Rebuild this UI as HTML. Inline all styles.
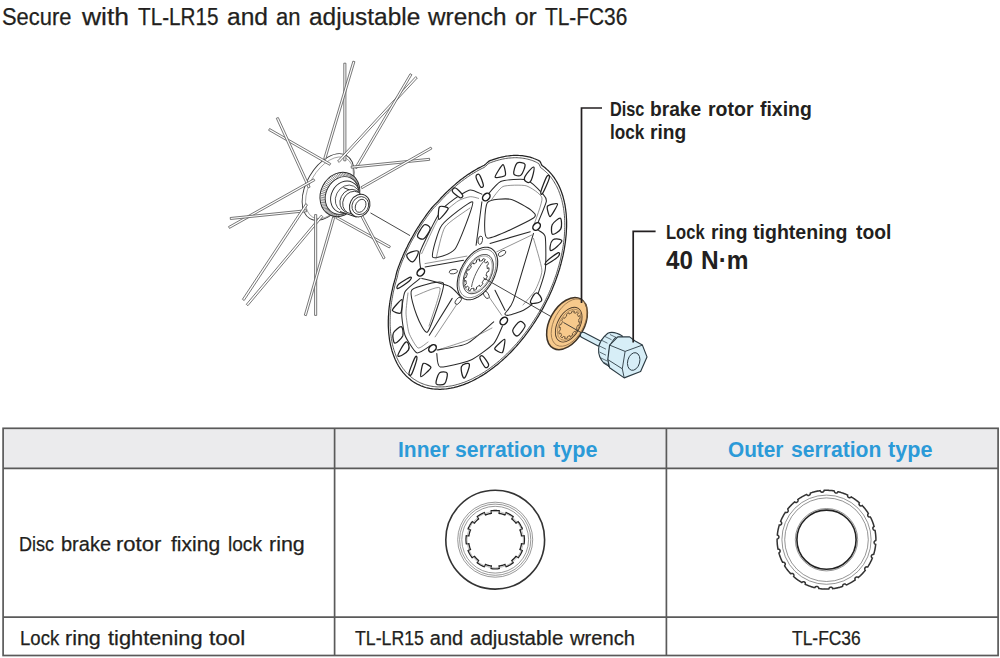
<!DOCTYPE html>
<html><head><meta charset="utf-8">
<style>
html,body{margin:0;padding:0;background:#fff;}
body{width:1000px;height:658px;position:relative;overflow:hidden;font-family:"Liberation Sans",sans-serif;color:#231f20;}
.t{position:absolute;white-space:nowrap;line-height:1;transform-origin:0 0;}
.b{font-weight:bold;}
.t:not(.b){-webkit-text-stroke:0.25px currentColor;}
.blue{color:#2b9ad8;}
svg{position:absolute;left:0;top:0;z-index:0;}
.t{z-index:1;}
</style></head><body>
<!--TEXT-->
<div class="t" style="left:2.24px;top:6.07px;font-size:23.3px;color:#231f20;transform:scaleX(0.9398)">Secure</div>
<div class="t" style="left:81.65px;top:6.07px;font-size:23.3px;color:#231f20;transform:scaleX(1.1366)">with</div>
<div class="t" style="left:137.94px;top:6.07px;font-size:23.3px;color:#231f20;transform:scaleX(0.8890)">TL-LR15</div>
<div class="t" style="left:227.37px;top:6.07px;font-size:23.3px;color:#231f20;transform:scaleX(1.0554)">and</div>
<div class="t" style="left:276.00px;top:6.07px;font-size:23.3px;color:#231f20;transform:scaleX(0.9448)">an</div>
<div class="t" style="left:309.00px;top:6.07px;font-size:23.3px;color:#231f20;transform:scaleX(1.0472)">adjustable</div>
<div class="t" style="left:427.81px;top:6.07px;font-size:23.3px;color:#231f20;transform:scaleX(1.0440)">wrench</div>
<div class="t" style="left:515.40px;top:6.07px;font-size:23.3px;color:#231f20;transform:scaleX(1.0476)">or</div>
<div class="t" style="left:545.22px;top:6.07px;font-size:23.3px;color:#231f20;transform:scaleX(0.8957)">TL-FC36</div>
<div class="t b" style="left:609.92px;top:100.09px;font-size:19.5px;color:#231f20;transform:scaleX(0.8362)">Disc</div>
<div class="t b" style="left:650.41px;top:100.09px;font-size:19.5px;color:#231f20;transform:scaleX(0.9844)">brake</div>
<div class="t b" style="left:708.00px;top:100.09px;font-size:19.5px;color:#231f20;transform:scaleX(1.0000)">rotor</div>
<div class="t b" style="left:760.40px;top:100.09px;font-size:19.5px;color:#231f20;transform:scaleX(0.9963)">fixing</div>
<div class="t b" style="left:609.85px;top:122.99px;font-size:19.5px;color:#231f20;transform:scaleX(0.8802)">lock</div>
<div class="t b" style="left:650.40px;top:122.99px;font-size:19.5px;color:#231f20;transform:scaleX(0.9838)">ring</div>
<div class="t b" style="left:666.13px;top:223.10px;font-size:19.6px;color:#231f20;transform:scaleX(0.8450)">Lock</div>
<div class="t b" style="left:710.82px;top:223.10px;font-size:19.6px;color:#231f20;transform:scaleX(0.9838)">ring</div>
<div class="t b" style="left:753.40px;top:223.10px;font-size:19.6px;color:#231f20;transform:scaleX(0.9979)">tightening</div>
<div class="t b" style="left:855.58px;top:223.10px;font-size:19.6px;color:#231f20;transform:scaleX(0.9838)">tool</div>
<div class="t b" style="left:666.00px;top:248.05px;font-size:25.1px;color:#231f20;transform:scaleX(0.9643)">40</div>
<div class="t b" style="left:700.62px;top:248.05px;font-size:25.1px;color:#231f20;transform:scaleX(0.9746)">N·m</div>
<div class="t b" style="left:398.02px;top:439.58px;font-size:21.4px;color:#2b9ad8;transform:scaleX(0.9808)">Inner</div>
<div class="t b" style="left:455.40px;top:439.58px;font-size:21.4px;color:#2b9ad8;transform:scaleX(0.9869)">serration</div>
<div class="t b" style="left:553.00px;top:439.58px;font-size:21.4px;color:#2b9ad8;transform:scaleX(1.0094)">type</div>
<div class="t b" style="left:728.20px;top:439.58px;font-size:21.4px;color:#2b9ad8;transform:scaleX(0.9720)">Outer</div>
<div class="t b" style="left:790.61px;top:439.58px;font-size:21.4px;color:#2b9ad8;transform:scaleX(0.9867)">serration</div>
<div class="t b" style="left:888.21px;top:439.58px;font-size:21.4px;color:#2b9ad8;transform:scaleX(1.0094)">type</div>
<div class="t" style="left:19.28px;top:534.14px;font-size:20.5px;color:#231f20;transform:scaleX(0.8810)">Disc</div>
<div class="t" style="left:61.00px;top:534.14px;font-size:20.5px;color:#231f20;transform:scaleX(0.9757)">brake</div>
<div class="t" style="left:115.93px;top:534.14px;font-size:20.5px;color:#231f20;transform:scaleX(1.0737)">rotor</div>
<div class="t" style="left:170.81px;top:534.14px;font-size:20.5px;color:#231f20;transform:scaleX(1.0294)">fixing</div>
<div class="t" style="left:227.83px;top:534.14px;font-size:20.5px;color:#231f20;transform:scaleX(0.9311)">lock</div>
<div class="t" style="left:268.77px;top:534.14px;font-size:20.5px;color:#231f20;transform:scaleX(1.0457)">ring</div>
<div class="t" style="left:19.64px;top:628.17px;font-size:20.0px;color:#231f20;transform:scaleX(0.9286)">Lock</div>
<div class="t" style="left:65.37px;top:628.17px;font-size:20.0px;color:#231f20;transform:scaleX(1.0732)">ring</div>
<div class="t" style="left:108.45px;top:628.17px;font-size:20.0px;color:#231f20;transform:scaleX(1.0897)">tightening</div>
<div class="t" style="left:208.82px;top:628.17px;font-size:20.0px;color:#231f20;transform:scaleX(1.1250)">tool</div>
<div class="t" style="left:354.94px;top:627.67px;font-size:20.0px;color:#231f20;transform:scaleX(0.8846)">TL-LR15</div>
<div class="t" style="left:429.80px;top:627.67px;font-size:20.0px;color:#231f20;transform:scaleX(1.0000)">and</div>
<div class="t" style="left:470.00px;top:627.67px;font-size:20.0px;color:#231f20;transform:scaleX(1.0231)">adjustable</div>
<div class="t" style="left:569.80px;top:627.67px;font-size:20.0px;color:#231f20;transform:scaleX(1.0079)">wrench</div>
<div class="t" style="left:791.78px;top:627.67px;font-size:20.0px;color:#231f20;transform:scaleX(0.8709)">TL-FC36</div>
<!--/TEXT-->
<svg id="ill" width="1000" height="658" viewBox="0 0 1000 658">
<!--ILL-->
<g stroke="#3a3a3a" stroke-width="0.9" fill="#fff">
<ellipse cx="328.1" cy="187.0" rx="36.4" ry="21.4" transform="rotate(-60 328.1 187.0)"/>
</g>
<g stroke="#777" stroke-width="0.6" fill="none">
<ellipse cx="329.5" cy="187.8" rx="33.8" ry="19.6" transform="rotate(-60 329.5 187.8)"/>
</g>
<g stroke="#555" stroke-width="0.8" fill="#fff">
<path d="M343.8,63.2 L343.8,160.8 L345.9,160.8 L345.9,63.2Z"/>
<path d="M352.9,61.1 L323.7,158.7 L325.7,159.3 L354.9,61.7Z"/>
<path d="M415.7,76.6 L337.6,161.0 L339.2,162.4 L417.3,78.0Z"/>
<path d="M410.1,73.7 L354.9,167.6 L356.7,168.6 L411.9,74.7Z"/>
<path d="M268.6,130.3 L329.7,165.3 L330.7,163.5 L269.6,128.5Z"/>
<path d="M276.3,118.3 L308.1,187.9 L310.1,187.1 L278.3,117.5Z"/>
<path d="M429.5,158.3 L351.1,166.2 L351.3,168.2 L429.7,160.3Z"/>
<path d="M430.9,147.1 L360.9,186.9 L361.9,188.7 L431.9,148.9Z"/>
<path d="M229.5,228.4 L314.8,180.6 L313.8,178.8 L228.5,226.6Z"/>
<path d="M230.4,219.5 L306.7,211.7 L306.5,209.7 L230.2,217.5Z"/>
<path d="M244.2,300.5 L307.5,204.9 L305.7,203.7 L242.4,299.3Z"/>
<path d="M247.9,305.7 L322.8,216.6 L321.2,215.2 L246.3,304.3Z"/>
<path d="M316.7,315.4 L316.7,214.6 L314.6,214.6 L314.6,315.4Z"/>
<path d="M306.3,315.7 L334.7,217.5 L332.7,216.9 L304.3,315.1Z"/>
<path d="M390.4,246.2 L336.8,216.5 L335.8,218.3 L389.4,248.0Z"/>
<path d="M385.1,258.0 L362.3,214.7 L360.5,215.7 L383.3,259.0Z"/>
</g>
<g stroke="#2a2a2a" stroke-width="1" fill="#fff">
<ellipse cx="339.9" cy="194.4" rx="22.9" ry="19.1" transform="rotate(-63 339.9 194.4)"/>
</g>
<g stroke="#555" stroke-width="0.7">
<line x1="350.0" y1="174.5" x2="350.9" y2="178.1"/>
<line x1="351.4" y1="175.3" x2="352.1" y2="178.8"/>
<line x1="352.7" y1="176.3" x2="353.2" y2="179.7"/>
<line x1="353.9" y1="177.4" x2="354.2" y2="180.6"/>
<line x1="355.1" y1="178.6" x2="355.2" y2="181.7"/>
<line x1="356.0" y1="179.9" x2="356.0" y2="182.8"/>
<line x1="356.9" y1="181.4" x2="356.8" y2="184.1"/>
<line x1="357.6" y1="182.9" x2="357.4" y2="185.4"/>
<line x1="358.3" y1="184.6" x2="357.9" y2="186.9"/>
<line x1="358.7" y1="186.3" x2="358.3" y2="188.4"/>
<line x1="359.0" y1="188.1" x2="358.6" y2="189.9"/>
<line x1="359.2" y1="189.9" x2="358.8" y2="191.5"/>
<line x1="359.2" y1="191.7" x2="358.8" y2="193.1"/>
<line x1="359.1" y1="193.6" x2="358.7" y2="194.7"/>
<line x1="358.9" y1="195.5" x2="358.4" y2="196.4"/>
<line x1="358.4" y1="197.4" x2="358.1" y2="198.0"/>
<line x1="357.9" y1="199.2" x2="357.6" y2="199.6"/>
<line x1="357.2" y1="201.0" x2="357.0" y2="201.2"/>
<line x1="356.4" y1="202.8" x2="356.3" y2="202.8"/>
<line x1="355.4" y1="204.5" x2="355.4" y2="204.3"/>
<line x1="354.4" y1="206.1" x2="354.5" y2="205.7"/>
<line x1="353.2" y1="207.7" x2="353.5" y2="207.0"/>
<line x1="351.9" y1="209.1" x2="352.4" y2="208.3"/>
<line x1="350.6" y1="210.4" x2="351.2" y2="209.4"/>
<line x1="349.1" y1="211.6" x2="349.9" y2="210.5"/>
<line x1="347.6" y1="212.7" x2="348.6" y2="211.4"/>
<line x1="346.0" y1="213.6" x2="347.2" y2="212.2"/>
<line x1="344.4" y1="214.4" x2="345.8" y2="212.9"/>
<line x1="342.7" y1="215.0" x2="344.4" y2="213.5"/>
<line x1="341.1" y1="215.5" x2="342.9" y2="213.9"/>
<line x1="339.4" y1="215.8" x2="341.5" y2="214.2"/>
<line x1="337.7" y1="216.0" x2="340.0" y2="214.3"/>
<line x1="336.0" y1="215.9" x2="338.6" y2="214.3"/>
<line x1="334.4" y1="215.8" x2="337.1" y2="214.2"/>
<line x1="332.8" y1="215.4" x2="335.8" y2="213.9"/>
<line x1="331.3" y1="214.9" x2="334.4" y2="213.4"/>
<line x1="329.8" y1="214.3" x2="333.1" y2="212.9"/>
<line x1="328.4" y1="213.5" x2="331.9" y2="212.2"/>
<line x1="327.1" y1="212.5" x2="330.8" y2="211.3"/>
<line x1="325.9" y1="211.4" x2="329.8" y2="210.4"/>
<line x1="324.7" y1="210.2" x2="328.8" y2="209.3"/>
<line x1="323.8" y1="208.9" x2="328.0" y2="208.2"/>
<line x1="322.9" y1="207.4" x2="327.2" y2="206.9"/>
<line x1="322.2" y1="205.9" x2="326.6" y2="205.6"/>
<line x1="321.5" y1="204.2" x2="326.1" y2="204.1"/>
<line x1="321.1" y1="202.5" x2="325.7" y2="202.6"/>
<line x1="320.8" y1="200.7" x2="325.4" y2="201.1"/>
<line x1="320.6" y1="198.9" x2="325.2" y2="199.5"/>
<line x1="320.6" y1="197.1" x2="325.2" y2="197.9"/>
<line x1="320.7" y1="195.2" x2="325.3" y2="196.3"/>
<line x1="320.9" y1="193.3" x2="325.6" y2="194.6"/>
<line x1="321.4" y1="191.4" x2="325.9" y2="193.0"/>
<line x1="321.9" y1="189.6" x2="326.4" y2="191.4"/>
<line x1="322.6" y1="187.8" x2="327.0" y2="189.8"/>
<line x1="323.4" y1="186.0" x2="327.7" y2="188.2"/>
<line x1="324.4" y1="184.3" x2="328.6" y2="186.7"/>
<line x1="325.4" y1="182.7" x2="329.5" y2="185.3"/>
<line x1="326.6" y1="181.1" x2="330.5" y2="184.0"/>
<line x1="327.9" y1="179.7" x2="331.6" y2="182.7"/>
<line x1="329.2" y1="178.4" x2="332.8" y2="181.6"/>
<line x1="330.7" y1="177.2" x2="334.1" y2="180.5"/>
<line x1="332.2" y1="176.1" x2="335.4" y2="179.6"/>
<line x1="333.8" y1="175.2" x2="336.8" y2="178.8"/>
<line x1="335.4" y1="174.4" x2="338.2" y2="178.1"/>
<line x1="337.1" y1="173.8" x2="339.6" y2="177.5"/>
<line x1="338.7" y1="173.3" x2="341.1" y2="177.1"/>
<line x1="340.4" y1="173.0" x2="342.5" y2="176.8"/>
<line x1="342.1" y1="172.8" x2="344.0" y2="176.7"/>
<line x1="343.8" y1="172.9" x2="345.4" y2="176.7"/>
<line x1="345.4" y1="173.0" x2="346.9" y2="176.8"/>
<line x1="347.0" y1="173.4" x2="348.2" y2="177.1"/>
<line x1="348.5" y1="173.9" x2="349.6" y2="177.6"/>
</g>
<g stroke="#2a2a2a" stroke-width="0.9" fill="#fff">
<ellipse cx="342.0" cy="195.5" rx="19.5" ry="16.0" transform="rotate(-63 342.0 195.5)"/>
<ellipse cx="345.0" cy="197.0" rx="16.5" ry="13.8" transform="rotate(-63 345.0 197.0)"/>
<ellipse cx="347.5" cy="198.5" rx="13.8" ry="11.8" transform="rotate(-63 347.5 198.5)" stroke-width="0.7"/>
</g>
<g stroke="#2a2a2a" stroke-width="1" fill="#fff">
<path d="M343.5,187.6 L361.2,194.4 L369.7,205 L358.3,217.2 L340.1,211.5 Z" stroke="none"/>
<line x1="343.5" y1="187.6" x2="358" y2="193.2"/><line x1="340.1" y1="211.5" x2="356.5" y2="217.2"/>
<ellipse cx="350.5" cy="201.0" rx="12.0" ry="10.2" transform="rotate(-63 350.5 201)" stroke-width="0.8"/>
<ellipse cx="353.0" cy="202.5" rx="11.5" ry="10.0" transform="rotate(-63 353 202.5)" stroke-width="0.8"/>
<ellipse cx="359.7" cy="205.6" rx="11.6" ry="9.9" transform="rotate(-62 359.7 205.6)"/>
</g>
<g stroke="#2a2a2a" stroke-width="0.8" fill="none">
<ellipse cx="360.3" cy="205.6" rx="9.2" ry="8.1" transform="rotate(-62 360.3 205.6)"/>
<ellipse cx="360.6" cy="205.8" rx="6.9" ry="4.9" transform="rotate(-62 360.6 205.8)"/>
</g>
<line x1="370.5" y1="212.9" x2="410" y2="235.6" stroke="#333" stroke-width="0.9"/>
<path d="M539.9,161.3 L538.8,160.6 L537.6,160.0 L536.4,159.5 L535.2,159.0 L533.9,158.5 L532.7,158.0 L531.4,157.6 L530.1,157.2 L528.8,156.9 L527.5,156.6 L526.2,156.3 L524.8,156.1 L523.4,155.9 L522.1,155.7 L520.7,155.6 L519.3,155.5 L517.9,155.4 L516.4,155.4 L515.0,155.4 L513.5,155.4 L512.1,155.5 L510.6,155.6 L509.1,155.8 L507.6,156.0 L506.1,156.2 L504.6,156.5 L503.1,156.8 L501.6,157.1 L500.0,157.5 L498.5,157.9 L497.0,158.3 L495.4,158.8 L493.8,159.3 L492.3,159.9 L490.7,160.4 L489.1,161.1 L487.5,162.4 L485.9,163.9 L484.3,165.3 L482.7,166.0 L481.2,166.8 L479.6,167.6 L478.0,168.4 L476.5,169.3 L474.9,170.2 L473.4,171.1 L471.8,172.1 L470.3,173.1 L468.7,174.1 L467.2,175.1 L465.6,176.2 L464.1,177.3 L462.6,178.5 L461.0,179.6 L459.5,180.8 L458.0,182.1 L456.5,183.3 L455.0,184.6 L453.5,185.9 L452.0,187.2 L450.5,188.6 L449.0,190.0 L447.5,191.4 L446.1,192.8 L444.6,194.3 L443.2,195.8 L441.7,197.3 L440.3,198.8 L438.9,200.4 L437.5,202.0 L436.0,203.4 L434.5,204.9 L433.1,206.4 L431.7,208.0 L430.4,209.7 L429.0,211.4 L427.7,213.2 L426.4,214.9 L425.2,216.7 L423.9,218.5 L422.6,220.3 L421.4,222.1 L420.2,223.9 L419.0,225.8 L417.8,227.6 L416.6,229.5 L415.5,231.4 L414.4,233.3 L413.3,235.2 L412.2,237.2 L411.1,239.1 L410.1,241.1 L409.0,243.0 L408.0,245.0 L407.1,247.0 L406.1,248.9 L405.2,250.9 L404.2,252.9 L403.3,254.9 L402.5,257.0 L401.6,259.0 L400.8,261.0 L400.0,263.0 L399.2,265.1 L398.4,267.1 L397.7,269.1 L397.0,271.2 L396.5,273.2 L396.0,275.2 L395.6,277.2 L395.0,279.3 L394.4,281.3 L393.9,283.3 L393.3,285.3 L392.8,287.3 L392.4,289.3 L391.9,291.3 L391.5,293.3 L391.1,295.3 L390.7,297.3 L390.4,299.2 L390.0,301.2 L389.8,303.2 L389.5,305.1 L389.2,307.1 L389.0,309.0 L388.8,310.9 L388.7,312.8 L388.6,314.7 L388.4,316.6 L388.4,318.5 L388.3,320.3 L388.3,322.1 L388.3,324.0 L388.3,325.8 L388.4,327.6 L388.5,329.4 L388.6,331.1 L388.7,332.9 L388.9,334.6 L389.1,336.3 L389.3,338.0 L389.5,339.7 L389.8,341.3 L390.1,342.9 L390.4,344.5 L390.8,346.1 L391.2,347.7 L391.6,349.2 L392.0,350.7 L392.5,352.2 L393.0,353.7 L393.5,355.1 L394.0,356.6 L394.6,358.0 L395.1,359.3 L395.8,360.7 L396.4,362.0 L397.0,363.3 L397.7,364.5 L398.4,365.8 L399.2,367.0 L399.9,368.2 L400.7,369.3 L401.5,370.4 L402.3,371.5 L403.2,372.6 L404.1,373.6 L405.0,374.6 L405.9,375.6 L406.8,376.5 L407.8,377.4 L408.8,378.3 L409.8,379.1 L410.8,379.9 L411.8,380.7 L412.9,381.5 L414.0,382.2 L415.1,382.9 L416.2,383.5 L417.3,384.1 L418.5,384.7 L419.7,385.2 L420.9,385.8 L422.1,386.2 L423.3,386.7 L424.5,387.1 L425.8,387.5 L427.1,387.8 L428.4,388.1 L429.7,388.4 L431.0,388.6 L432.3,388.8 L433.7,389.0 L435.1,389.1 L436.4,389.2 L437.8,389.2 L439.2,389.3 L440.6,389.3 L442.0,389.2 L443.5,389.1 L444.9,389.0 L446.4,388.9 L447.8,388.7 L449.3,388.4 L450.8,388.2 L452.3,387.9 L453.8,387.6 L455.3,387.2 L456.8,386.8 L458.3,386.4 L459.8,385.9 L461.4,385.4 L462.9,384.9 L464.4,384.3 L466.0,383.7 L467.5,383.1 L469.1,382.4 L470.6,381.7 L472.2,381.0 L473.7,380.2 L475.3,379.4 L476.8,378.5 L478.4,377.7 L479.9,376.8 L481.5,375.9 L483.1,374.9 L484.6,373.9 L486.2,372.9 L487.7,371.8 L489.2,370.8 L490.8,369.6 L492.3,368.5 L493.9,367.3 L495.4,366.1 L496.9,364.9 L498.4,363.7 L499.9,362.4 L501.4,361.1 L502.9,359.7 L504.4,358.4 L505.9,357.0 L507.4,355.6 L508.8,354.1 L510.3,352.7 L511.7,351.2 L513.1,349.7 L514.6,348.1 L516.0,346.6 L517.4,345.0 L518.8,343.4 L520.1,341.8 L521.5,340.1 L522.8,338.5 L524.2,336.8 L525.5,335.1 L526.8,333.4 L528.1,331.6 L529.3,329.9 L530.6,328.1 L531.8,326.3 L533.1,324.5 L534.3,322.7 L535.5,320.9 L536.6,319.0 L537.8,317.1 L538.9,315.3 L540.0,313.4 L541.1,311.5 L542.2,309.6 L543.3,307.6 L544.3,305.7 L545.3,303.7 L546.3,301.8 L547.3,299.8 L548.3,297.9 L549.2,295.9 L550.1,293.9 L551.0,291.9 L551.9,289.9 L552.7,287.9 L553.5,285.9 L554.3,283.9 L555.1,281.9 L555.9,279.8 L556.6,277.8 L557.3,275.8 L558.0,273.8 L558.6,271.8 L559.3,269.7 L559.9,267.7 L560.4,265.7 L561.0,263.7 L561.5,261.7 L562.0,259.7 L562.5,257.7 L563.0,255.7 L563.4,253.7 L563.8,251.7 L564.2,249.7 L564.5,247.7 L564.8,245.8 L565.1,243.8 L565.4,241.9 L565.6,239.9 L565.8,238.0 L566.0,236.1 L566.2,234.2 L566.3,232.3 L566.4,230.4 L566.5,228.5 L566.6,226.7 L566.6,224.8 L566.6,223.0 L566.6,221.2 L566.5,219.4 L566.4,217.6 L566.3,215.9 L566.2,214.1 L566.0,212.4 L565.8,210.7 L565.6,209.0 L565.3,207.3 L565.1,205.7 L564.8,204.1 L564.4,202.4 L564.1,200.9 L563.7,199.3 L563.3,197.8 L562.9,196.2 L562.4,194.7 L561.9,193.3 L561.4,191.8 L560.9,190.4 L560.3,189.0 L559.7,187.6 L559.1,186.3 L558.5,185.0 L557.8,183.7 L557.1,182.4 L556.4,181.2 L555.7,180.0 L554.9,178.8 L554.2,177.7 L553.4,176.6 L552.5,175.5 L551.7,174.4 L550.8,173.4 L549.9,172.4 L549.0,171.4 L548.1,170.5 L547.1,169.6 L546.1,168.7 L545.1,167.8 L544.1,167.0 L543.1,166.3 L542.0,165.5 L541.3,164.1 L540.6,162.6Z" fill="#fff" stroke="#222" stroke-width="1.25" stroke-linejoin="round"/>
<path d="M538.7,163.5 L537.5,162.9 L536.4,162.3 L535.2,161.7 L534.0,161.2 L532.8,160.7 L531.6,160.3 L530.3,159.9 L529.1,159.5 L527.8,159.2 L526.5,158.9 L525.2,158.6 L523.9,158.4 L522.5,158.2 L521.2,158.0 L519.8,157.9 L518.5,157.8 L517.1,157.7 L515.7,157.7 L514.3,157.7 L512.8,157.8 L511.4,157.9 L510.0,158.0 L508.5,158.1 L507.0,158.3 L505.6,158.5 L504.1,158.8 L502.6,159.1 L501.1,159.4 L499.6,159.8 L498.1,160.2 L496.6,160.6 L495.0,161.1 L493.5,161.6 L492.0,162.1 L490.4,162.7 L488.9,163.3 L487.3,164.7 L485.7,166.1 L484.1,167.5 L482.6,168.2 L481.1,168.9 L479.6,169.7 L478.0,170.5 L476.5,171.4 L475.0,172.3 L473.5,173.2 L471.9,174.1 L470.4,175.1 L468.9,176.1 L467.4,177.1 L465.9,178.2 L464.4,179.3 L462.9,180.4 L461.4,181.5 L459.9,182.7 L458.4,183.9 L456.9,185.1 L455.4,186.4 L453.9,187.7 L452.5,189.0 L451.0,190.3 L449.6,191.7 L448.1,193.1 L446.7,194.5 L445.3,195.9 L443.9,197.4 L442.5,198.8 L441.1,200.3 L439.7,201.9 L438.3,203.4 L436.9,204.8 L435.4,206.2 L434.0,207.7 L432.6,209.3 L431.3,211.0 L430.0,212.7 L428.7,214.4 L427.5,216.1 L426.2,217.8 L425.0,219.6 L423.7,221.3 L422.5,223.1 L421.3,224.9 L420.2,226.7 L419.0,228.6 L417.9,230.4 L416.7,232.3 L415.6,234.1 L414.6,236.0 L413.5,237.9 L412.4,239.8 L411.4,241.7 L410.4,243.6 L409.4,245.6 L408.5,247.5 L407.5,249.4 L406.6,251.4 L405.7,253.4 L404.8,255.3 L404.0,257.3 L403.1,259.3 L402.3,261.2 L401.5,263.2 L400.8,265.2 L400.0,267.2 L399.3,269.2 L398.6,271.2 L398.1,273.2 L397.7,275.2 L397.3,277.2 L396.7,279.1 L396.1,281.1 L395.6,283.1 L395.0,285.1 L394.5,287.0 L394.1,289.0 L393.6,290.9 L393.2,292.9 L392.8,294.8 L392.5,296.8 L392.1,298.7 L391.8,300.6 L391.5,302.6 L391.3,304.5 L391.0,306.4 L390.8,308.3 L390.6,310.1 L390.5,312.0 L390.3,313.9 L390.2,315.7 L390.2,317.5 L390.1,319.4 L390.1,321.2 L390.1,323.0 L390.1,324.7 L390.2,326.5 L390.3,328.2 L390.4,330.0 L390.5,331.7 L390.7,333.4 L390.9,335.0 L391.1,336.7 L391.3,338.3 L391.6,339.9 L391.9,341.5 L392.2,343.1 L392.5,344.7 L392.9,346.2 L393.3,347.7 L393.7,349.2 L394.2,350.6 L394.7,352.1 L395.2,353.5 L395.7,354.9 L396.2,356.3 L396.8,357.6 L397.4,358.9 L398.0,360.2 L398.7,361.5 L399.3,362.7 L400.0,363.9 L400.8,365.1 L401.5,366.3 L402.3,367.4 L403.0,368.5 L403.9,369.5 L404.7,370.6 L405.5,371.6 L406.4,372.6 L407.3,373.5 L408.2,374.4 L409.2,375.3 L410.1,376.2 L411.1,377.0 L412.1,377.8 L413.1,378.6 L414.2,379.3 L415.3,380.0 L416.3,380.7 L417.4,381.3 L418.5,381.9 L419.7,382.5 L420.8,383.0 L422.0,383.5 L423.2,384.0 L424.4,384.4 L425.6,384.8 L426.9,385.2 L428.1,385.5 L429.4,385.8 L430.6,386.1 L431.9,386.3 L433.2,386.5 L434.6,386.6 L435.9,386.8 L437.3,386.9 L438.6,386.9 L440.0,386.9 L441.4,386.9 L442.8,386.9 L444.2,386.8 L445.6,386.7 L447.0,386.5 L448.4,386.3 L449.9,386.1 L451.3,385.9 L452.8,385.6 L454.3,385.3 L455.7,384.9 L457.2,384.5 L458.7,384.1 L460.2,383.6 L461.7,383.1 L463.2,382.6 L464.7,382.1 L466.2,381.5 L467.7,380.8 L469.2,380.2 L470.8,379.5 L472.3,378.8 L473.8,378.0 L475.3,377.2 L476.8,376.4 L478.4,375.6 L479.9,374.7 L481.4,373.8 L482.9,372.9 L484.5,371.9 L486.0,370.9 L487.5,369.9 L489.0,368.8 L490.5,367.7 L492.0,366.6 L493.5,365.4 L495.0,364.3 L496.5,363.1 L498.0,361.8 L499.5,360.6 L500.9,359.3 L502.4,358.0 L503.9,356.7 L505.3,355.3 L506.8,353.9 L508.2,352.5 L509.6,351.1 L511.0,349.6 L512.4,348.1 L513.8,346.6 L515.2,345.1 L516.6,343.6 L517.9,342.0 L519.3,340.4 L520.6,338.8 L521.9,337.2 L523.2,335.5 L524.5,333.9 L525.8,332.2 L527.1,330.5 L528.3,328.7 L529.5,327.0 L530.8,325.3 L531.9,323.5 L533.1,321.7 L534.3,319.9 L535.4,318.1 L536.6,316.3 L537.7,314.4 L538.8,312.6 L539.9,310.7 L540.9,308.8 L542.0,306.9 L543.0,305.0 L544.0,303.1 L545.0,301.2 L545.9,299.3 L546.8,297.4 L547.8,295.4 L548.7,293.5 L549.5,291.5 L550.4,289.6 L551.2,287.6 L552.0,285.6 L552.8,283.7 L553.6,281.7 L554.3,279.7 L555.0,277.7 L555.7,275.8 L556.4,273.8 L557.0,271.8 L557.6,269.8 L558.2,267.8 L558.8,265.9 L559.3,263.9 L559.8,261.9 L560.3,260.0 L560.8,258.0 L561.2,256.0 L561.7,254.1 L562.1,252.1 L562.4,250.2 L562.8,248.3 L563.1,246.3 L563.4,244.4 L563.6,242.5 L563.9,240.6 L564.1,238.7 L564.3,236.8 L564.4,235.0 L564.5,233.1 L564.6,231.3 L564.7,229.4 L564.8,227.6 L564.8,225.8 L564.8,224.0 L564.8,222.2 L564.7,220.5 L564.6,218.7 L564.5,217.0 L564.4,215.3 L564.2,213.6 L564.0,211.9 L563.8,210.3 L563.6,208.7 L563.3,207.0 L563.0,205.5 L562.7,203.9 L562.3,202.3 L562.0,200.8 L561.6,199.3 L561.1,197.8 L560.7,196.3 L560.2,194.9 L559.7,193.5 L559.2,192.1 L558.7,190.7 L558.1,189.4 L557.5,188.1 L556.9,186.8 L556.2,185.5 L555.5,184.3 L554.8,183.1 L554.1,181.9 L553.4,180.7 L552.6,179.6 L551.8,178.5 L551.0,177.4 L550.2,176.4 L549.3,175.4 L548.5,174.4 L547.6,173.5 L546.6,172.5 L545.7,171.7 L544.7,170.8 L543.8,170.0 L542.8,169.2 L541.7,168.4 L540.7,167.7 L540.1,166.3 L539.4,164.9Z" fill="none" stroke="#3a3a3a" stroke-width="0.85"/>
<g fill="none" stroke="#2a2a2a" stroke-width="1.05" stroke-linejoin="round" stroke-linecap="round">
<path d="M485.5,197.4 C487.0,195.8 496.6,183.4 500.7,181.6 C504.8,179.8 522.0,178.4 526.2,179.7 C530.5,181.0 541.2,192.1 543.2,194.3 C545.2,196.5 546.9,198.6 546.3,201.6 C545.7,204.6 538.0,222.4 537.1,224.7"/>
<path d="M487.3,202.8 C489.6,198.9 506.0,198.5 510.4,199.2 C514.8,199.9 528.7,208.2 531.0,210.1 C533.3,212.0 537.9,215.2 533.5,218.0 C529.1,220.8 491.9,239.6 487.3,238.1 C482.7,236.6 485.0,206.7 487.3,202.8Z"/>
<path d="M533.5,233.4 C531.5,240.1 516.2,292.3 513.4,300.3 C510.5,308.3 505.5,312.1 505.0,313.6 C504.5,315.1 506.5,315.6 508.4,315.3 C510.2,315.0 520.8,311.8 523.5,310.3 C526.2,308.8 533.0,304.3 535.2,300.3 C537.4,296.3 544.2,276.6 545.2,270.2 C546.2,263.8 545.9,240.7 545.2,236.7 C544.5,232.7 538.7,230.7 538.0,230.0"/>
<path d="M437.0,350.0 C440.0,349.4 461.2,346.4 466.9,343.6 C472.6,340.8 491.0,324.0 493.7,321.8"/>
<path d="M436.8,353.6 C437.1,354.9 436.8,366.3 440.2,367.0 C443.6,367.7 464.9,362.6 470.3,360.3 C475.7,358.0 490.5,347.0 493.7,343.6 C496.9,340.2 501.6,327.8 502.5,326.0"/>
<path d="M411.7,290.1 C414.4,286.9 441.9,279.2 443.5,283.4 C445.1,287.6 430.3,328.7 427.6,331.9 C424.9,335.1 418.3,319.4 416.7,315.2 C415.1,311.0 409.0,293.3 411.7,290.1Z"/>
<path d="M430.0,346.0 C428.7,346.7 419.2,353.9 416.7,352.8 C414.2,351.7 406.5,339.1 405.0,335.2 C403.5,331.3 401.7,317.9 401.7,313.5 C401.7,309.1 403.2,295.2 405.0,291.7 C406.8,288.2 418.6,279.7 420.1,278.4"/>
<path d="M432.6,256.9 C431.3,254.5 437.8,230.7 441.8,225.2 C445.8,219.7 471.4,199.6 472.7,202.0 C474.0,204.4 459.0,243.5 455.0,249.0 C451.0,254.5 433.9,259.3 432.6,256.9Z"/>
<path d="M420.9,270.3 C420.8,268.5 418.2,257.8 420.1,251.9 C422.0,246.1 436.6,217.2 440.1,211.8 C443.6,206.5 452.2,200.6 455.2,198.4 C458.2,196.2 467.5,190.4 470.2,190.0 C472.9,189.6 480.7,193.8 481.9,194.2"/>
<path d="M481.9,201.7 L476.1,245.2"/>
<path d="M495.0,290.2 L505.0,310.3"/>
<path d="M452.2,298.4 L429.3,335.2"/>
<path d="M425.1,267.0 L463.5,260.3"/>
<path d="M421.8,278.4 C424.6,279.2 446.2,284.7 450.2,286.7 C454.2,288.7 460.7,297.2 461.9,298.4"/>
<path d="M490.0,243.4 L530.2,231.7"/>
</g>
<g fill="none" stroke="#5a5a5a" stroke-width="0.65" stroke-linecap="round">
<path d="M491.0,200.4 C492.2,199.0 499.5,188.0 503.0,186.5 C506.5,185.0 522.3,184.7 526.2,185.8 C530.1,187.0 541.3,194.0 542.0,198.0 C542.7,202.0 534.4,223.2 533.5,226.0"/>
<path d="M496.7,251.8 L531.8,235.0"/>
<path d="M533.5,238.4 C534.3,241.6 541.7,265.0 541.9,270.2 C542.1,275.4 537.1,286.7 535.2,290.2 C533.3,293.7 524.2,303.5 523.0,305.0"/>
<path d="M486.7,293.6 L501.7,315.3"/>
<path d="M458.5,301.8 L435.1,336.9"/>
<path d="M421.7,253.6 C423.4,250.1 434.9,223.8 438.5,218.5 C442.1,213.2 454.8,203.2 458.0,201.0 C461.2,198.8 468.1,197.0 470.2,196.7 C472.3,196.4 477.8,198.2 478.6,198.4"/>
<path d="M425.0,263.6 L466.9,256.1"/>
<path d="M408.0,293.0 C407.8,295.0 405.9,309.0 406.0,313.0 C406.1,317.0 407.8,329.5 409.0,333.0 C410.2,336.5 416.1,347.1 418.0,348.0 C419.9,348.9 427.0,342.6 428.0,342.0"/>
<path d="M441.0,349.0 C443.7,348.1 462.9,342.1 468.0,340.0 C473.1,337.9 489.6,329.2 492.0,328.0"/>
<path d="M436.0,259.0 C436.9,255.8 441.6,232.1 445.0,227.0 C448.4,221.9 467.5,209.9 470.0,208.0"/>
<path d="M415.0,296.0 C417.5,295.2 438.6,285.0 440.0,288.0 C441.4,291.0 430.1,322.2 429.0,326.0"/>
</g>
<g fill="#fff" stroke="#333" stroke-width="0.85">
<ellipse cx="480.3" cy="240.2" rx="4.2" ry="2.2" transform="rotate(-80 480.3 240.2)"/>
<ellipse cx="502" cy="253.4" rx="4.2" ry="2.2" transform="rotate(-30 502 253.4)"/>
<ellipse cx="453.4" cy="271.6" rx="4.2" ry="2.2" transform="rotate(170 453.4 271.6)"/>
<ellipse cx="458.2" cy="300.8" rx="4.2" ry="2.2" transform="rotate(130 458.2 300.8)"/>
<ellipse cx="486.2" cy="294.7" rx="4.2" ry="2.2" transform="rotate(60 486.2 294.7)"/>
</g>
<ellipse cx="486.3" cy="197.0" rx="4.3" ry="3.1" transform="rotate(-45 486.3 197.0)" fill="#fff" stroke="#1a1a1a" stroke-width="1.5"/>
<ellipse cx="536.6" cy="226.5" rx="4.3" ry="3.1" transform="rotate(-45 536.6 226.5)" fill="#fff" stroke="#1a1a1a" stroke-width="1.5"/>
<ellipse cx="503.8" cy="321.0" rx="4.3" ry="3.1" transform="rotate(-45 503.8 321.0)" fill="#fff" stroke="#1a1a1a" stroke-width="1.5"/>
<ellipse cx="432.5" cy="348.4" rx="4.3" ry="3.1" transform="rotate(-45 432.5 348.4)" fill="#fff" stroke="#1a1a1a" stroke-width="1.5"/>
<ellipse cx="420.8" cy="272.3" rx="4.3" ry="3.1" transform="rotate(-45 420.8 272.3)" fill="#fff" stroke="#1a1a1a" stroke-width="1.5"/>
<g fill="#fff" stroke="#222" stroke-width="1.25" stroke-linejoin="round">
<path d="M483.4,185.3 C483.2,183.3 480.6,175.9 479.3,174.6 C478.1,173.2 475.8,175.0 476.0,177.0 C476.2,179.0 479.3,185.3 480.5,186.7 C481.8,188.1 483.6,187.3 483.4,185.3Z"/>
<path d="M505.3,175.2 C506.2,173.8 504.1,164.4 502.9,164.6 C501.7,164.8 494.8,175.9 495.1,177.1 C495.4,178.3 504.4,176.7 505.3,175.2Z"/>
<path d="M521.0,175.1 C522.7,173.7 525.6,166.2 525.0,164.4 C524.4,162.6 518.6,161.7 516.9,163.2 C515.3,164.6 513.2,172.2 513.8,174.0 C514.4,175.7 519.3,176.6 521.0,175.1Z"/>
<path d="M530.3,181.7 C532.2,179.5 535.0,167.8 533.8,167.1 C532.6,166.3 525.1,175.1 524.4,178.1 C523.7,181.0 528.4,183.9 530.3,181.7Z"/>
<path d="M542.6,193.3 C544.0,191.1 548.6,180.9 549.3,178.1 C550.0,175.3 548.3,174.2 546.9,176.4 C545.5,178.6 541.8,188.3 541.0,191.1 C540.3,194.0 541.2,195.5 542.6,193.3Z"/>
<path d="M550.1,216.7 C551.3,216.4 557.8,205.2 557.5,204.0 C557.1,202.8 548.3,204.9 547.4,206.4 C546.6,207.8 549.0,216.9 550.1,216.7Z"/>
<path d="M552.5,234.3 C553.8,234.9 559.6,231.3 560.8,228.9 C562.0,226.6 561.7,219.0 560.4,218.3 C559.1,217.7 553.4,222.3 552.2,224.7 C551.1,227.0 551.2,233.6 552.5,234.3Z"/>
<path d="M550.8,250.6 C552.7,250.8 561.5,243.1 561.8,241.0 C562.2,238.9 554.8,238.2 552.6,240.1 C550.4,242.0 549.0,250.4 550.8,250.6Z"/>
<path d="M462.7,195.2 C462.0,193.6 457.3,188.6 455.5,188.0 C453.8,187.4 451.7,189.9 452.4,191.4 C453.1,193.0 458.0,196.9 459.8,197.6 C461.5,198.2 463.4,196.8 462.7,195.2Z"/>
<path d="M448.2,208.5 C448.3,207.1 440.6,205.5 439.5,206.8 C438.4,208.1 437.8,219.1 438.9,219.3 C439.9,219.5 448.2,210.0 448.2,208.5Z"/>
<path d="M430.2,228.7 C430.2,226.6 426.3,223.7 424.4,224.8 C422.5,225.9 417.5,234.0 417.4,236.0 C417.3,238.1 421.9,239.9 423.8,238.7 C425.7,237.6 430.1,230.8 430.2,228.7Z"/>
<path d="M418.1,251.2 C416.9,249.8 407.9,252.6 406.9,254.7 C405.8,256.9 410.6,262.5 412.8,261.8 C415.1,261.1 419.3,252.6 418.1,251.2Z"/>
<path d="M410.4,277.2 C408.6,277.7 400.7,282.4 398.6,284.2 C396.6,286.1 396.3,289.0 398.0,288.5 C399.8,287.9 407.3,282.8 409.3,281.0 C411.4,279.1 412.2,276.6 410.4,277.2Z"/>
<path d="M401.9,299.7 C400.9,299.4 392.5,308.6 392.4,310.2 C392.2,311.7 399.6,314.2 400.7,312.9 C401.8,311.7 402.8,300.0 401.9,299.7Z"/>
<path d="M401.3,326.7 C399.8,326.4 394.1,330.9 393.2,333.4 C392.2,335.9 393.5,342.9 394.9,343.2 C396.4,343.6 401.8,338.2 402.8,335.7 C403.7,333.2 402.7,327.1 401.3,326.7Z"/>
<path d="M405.8,342.1 C403.7,343.3 397.4,354.6 397.9,356.1 C398.4,357.7 406.9,352.8 408.5,349.9 C410.1,347.1 408.0,340.9 405.8,342.1Z"/>
<path d="M415.1,357.4 C413.8,359.6 409.7,370.0 409.1,372.7 C408.5,375.5 410.3,376.4 411.6,374.1 C412.9,371.9 416.2,362.1 416.8,359.3 C417.4,356.5 416.3,355.1 415.1,357.4Z"/>
<path d="M423.2,363.5 C422.0,364.6 420.0,376.2 420.9,376.7 C421.8,377.1 430.6,369.1 430.9,367.6 C431.1,366.1 424.3,362.5 423.2,363.5Z"/>
<path d="M439.5,372.9 C437.9,374.5 435.4,382.0 436.2,383.7 C437.0,385.3 443.0,385.4 444.6,383.8 C446.3,382.2 447.9,374.7 447.1,373.1 C446.4,371.5 441.2,371.3 439.5,372.9Z"/>
<path d="M461.5,366.6 C460.4,369.3 462.6,378.5 464.2,378.1 C465.7,377.6 469.9,366.7 469.4,364.4 C468.9,362.1 462.5,363.9 461.5,366.6Z"/>
<path d="M479.9,358.0 C480.3,359.9 483.9,366.3 485.3,367.4 C486.8,368.4 489.0,366.3 488.6,364.5 C488.2,362.6 484.3,357.3 482.9,356.2 C481.4,355.1 479.5,356.1 479.9,358.0Z"/>
<path d="M494.7,348.5 C494.5,350.0 501.2,353.5 502.4,352.5 C503.6,351.4 505.5,339.8 504.7,339.3 C503.8,338.9 495.0,347.0 494.7,348.5Z"/>
<path d="M512.7,330.4 C512.4,332.6 515.5,336.6 517.4,335.9 C519.2,335.3 524.7,328.2 525.1,326.0 C525.4,323.8 521.5,320.9 519.7,321.6 C517.8,322.2 513.1,328.3 512.7,330.4Z"/>
<path d="M530.6,302.8 C531.7,304.4 540.3,302.7 541.5,300.7 C542.6,298.7 538.4,292.4 536.2,292.9 C534.0,293.3 529.6,301.3 530.6,302.8Z"/>
<path d="M546.1,264.7 C547.9,264.1 555.9,258.9 557.9,256.9 C559.9,254.9 560.1,252.1 558.3,252.7 C556.5,253.4 549.1,258.9 547.1,260.9 C545.0,262.9 544.3,265.4 546.1,264.7Z"/>
</g>
<g fill="#fff" stroke="#2a2a2a" stroke-width="1.1">
<path d="M491.3,248.5 L490.3,248.1 L489.3,247.7 L488.2,247.4 L487.1,247.3 L485.9,247.2 L484.7,247.3 L483.4,247.5 L482.1,247.8 L480.8,248.2 L479.5,248.7 L478.2,249.3 L476.9,250.1 L475.6,250.9 L474.2,251.8 L472.9,252.8 L471.7,253.9 L470.4,255.1 L469.2,256.4 L468.0,257.7 L466.8,259.1 L465.7,260.6 L464.7,262.1 L463.7,263.7 L462.7,265.3 L461.9,267.0 L461.1,268.6 L460.3,270.3 L459.7,272.0 L459.1,273.8 L458.5,275.5 L458.1,277.2 L457.8,278.9 L457.5,280.6 L457.3,282.2 L457.2,283.8 L457.2,285.4 L457.3,286.9 L457.5,288.3 L457.7,289.7 L458.1,291.0 L458.5,292.3 L459.0,293.4 L459.6,294.5 L460.2,295.5 L460.9,296.4 L461.8,297.2 L462.6,297.9 L463.5,298.4 L464.5,298.9 L465.6,299.3 L466.7,299.6 L467.8,299.7 L469.0,299.7 L470.2,299.7 L471.5,299.5 L472.8,299.2 L474.1,298.8 L475.4,298.3 L476.7,297.6 L478.0,296.9 L479.3,296.1 L480.6,295.2 L481.9,294.2 L483.2,293.1 L484.5,291.9 L485.7,290.6 L486.9,289.3 L488.0,287.8 L489.1,286.4 L490.2,284.9 L491.2,283.3 L492.1,281.7 L493.0,280.0 L493.8,278.3 L494.6,276.6 L495.2,274.9 L495.8,273.2 L496.3,271.5 L496.8,269.8 L497.1,268.1 L497.4,266.4 L497.6,264.8 L497.6,263.2 L497.7,261.6 L497.6,260.1 L497.4,258.7 L497.2,257.3 L496.8,256.0 L496.4,254.7 L495.9,253.6 L495.3,252.5 L494.7,251.5 L493.9,250.6 L493.1,249.8 L492.3,249.1Z"/>
</g>
<g fill="none" stroke="#444" stroke-width="0.7">
<path d="M490.2,250.5 L489.3,250.1 L488.3,249.7 L487.3,249.5 L486.3,249.4 L485.2,249.3 L484.1,249.4 L482.9,249.6 L481.7,249.8 L480.6,250.2 L479.3,250.7 L478.1,251.3 L476.9,251.9 L475.7,252.7 L474.5,253.5 L473.3,254.5 L472.1,255.5 L471.0,256.6 L469.8,257.8 L468.7,259.0 L467.7,260.3 L466.7,261.6 L465.7,263.0 L464.8,264.5 L463.9,266.0 L463.1,267.5 L462.4,269.0 L461.7,270.6 L461.1,272.2 L460.5,273.7 L460.1,275.3 L459.7,276.9 L459.3,278.5 L459.1,280.0 L458.9,281.5 L458.9,283.0 L458.8,284.4 L458.9,285.8 L459.1,287.1 L459.3,288.4 L459.6,289.6 L460.0,290.8 L460.5,291.8 L461.0,292.8 L461.6,293.7 L462.3,294.5 L463.0,295.3 L463.8,295.9 L464.7,296.4 L465.6,296.9 L466.5,297.2 L467.5,297.5 L468.6,297.6 L469.7,297.6 L470.8,297.6 L472.0,297.4 L473.1,297.1 L474.3,296.8 L475.5,296.3 L476.7,295.7 L478.0,295.0 L479.2,294.3 L480.4,293.4 L481.6,292.5 L482.8,291.5 L483.9,290.4 L485.0,289.2 L486.1,288.0 L487.2,286.7 L488.2,285.3 L489.2,283.9 L490.1,282.5 L491.0,281.0 L491.8,279.5 L492.5,278.0 L493.2,276.4 L493.8,274.8 L494.3,273.2 L494.8,271.7 L495.2,270.1 L495.5,268.5 L495.8,267.0 L495.9,265.5 L496.0,264.0 L496.0,262.6 L496.0,261.2 L495.8,259.9 L495.6,258.6 L495.3,257.4 L494.9,256.2 L494.4,255.2 L493.9,254.2 L493.3,253.3 L492.6,252.4 L491.9,251.7 L491.1,251.1Z"/>
</g>
<path d="M488.6,255.5 L487.9,255.1 L487.1,254.8 L486.3,254.6 L485.4,254.5 L484.5,254.5 L483.6,254.5 L482.7,254.7 L481.7,254.9 L480.8,255.2 L479.8,255.6 L478.8,256.1 L477.8,256.6 L476.8,257.2 L475.8,257.9 L474.9,258.7 L473.9,259.5 L473.0,260.4 L472.1,261.3 L471.2,262.3 L470.3,263.4 L469.5,264.5 L468.7,265.6 L468.0,266.8 L467.3,268.0 L466.6,269.2 L466.0,270.5 L465.5,271.7 L465.0,273.0 L464.5,274.3 L464.1,275.6 L463.8,276.9 L463.6,278.1 L463.4,279.4 L463.2,280.6 L463.2,281.8 L463.1,282.9 L463.2,284.1 L463.3,285.2 L463.5,286.2 L463.8,287.2 L464.1,288.1 L464.5,289.0 L464.9,289.8 L465.4,290.5 L465.9,291.2 L466.5,291.8 L467.2,292.3 L467.9,292.7 L468.6,293.1 L469.4,293.4 L470.2,293.6 L471.1,293.7 L471.9,293.7 L472.9,293.6 L473.8,293.5 L474.7,293.3 L475.7,293.0 L476.7,292.6 L477.7,292.1 L478.7,291.6 L479.7,291.0 L480.6,290.3 L481.6,289.5 L482.6,288.7 L483.5,287.8 L484.4,286.9 L485.3,285.9 L486.2,284.8 L487.0,283.7 L487.8,282.6 L488.5,281.4 L489.2,280.2 L489.9,279.0 L490.5,277.7 L491.0,276.4 L491.5,275.2 L492.0,273.9 L492.3,272.6 L492.7,271.3 L492.9,270.1 L493.1,268.8 L493.3,267.6 L493.3,266.4 L493.3,265.2 L493.3,264.1 L493.1,263.0 L493.0,262.0 L492.7,261.0 L492.4,260.1 L492.0,259.2 L491.6,258.4 L491.1,257.7 L490.6,257.0 L490.0,256.4 L489.3,255.9Z" fill="none" stroke="#2a2a2a" stroke-width="0.95"/>
<path d="M487.8,256.9 L487.1,256.6 L486.4,256.3 L485.7,256.1 L484.9,256.0 L484.0,256.0 L483.2,256.1 L482.3,256.2 L481.5,256.4 L480.6,256.7 L479.7,257.0 L478.8,257.5 L477.8,257.9 L476.9,258.5 L476.0,259.2 L475.1,259.9 L474.3,260.6 L473.4,261.4 L472.5,262.3 L471.7,263.2 L470.9,264.2 L470.2,265.2 L469.5,266.3 L468.8,267.3 L468.1,268.5 L467.5,269.6 L467.0,270.7 L466.4,271.9 L466.0,273.1 L465.6,274.3 L465.2,275.5 L464.9,276.6 L464.7,277.8 L464.5,279.0 L464.4,280.1 L464.3,281.2 L464.3,282.3 L464.4,283.3 L464.5,284.3 L464.7,285.3 L464.9,286.2 L465.2,287.0 L465.5,287.8 L465.9,288.6 L466.4,289.2 L466.9,289.9 L467.4,290.4 L468.0,290.9 L468.7,291.3 L469.4,291.6 L470.1,291.9 L470.8,292.0 L471.6,292.2 L472.4,292.2 L473.3,292.1 L474.1,292.0 L475.0,291.8 L475.9,291.5 L476.8,291.2 L477.7,290.7 L478.6,290.2 L479.5,289.7 L480.4,289.0 L481.3,288.3 L482.2,287.6 L483.1,286.7 L483.9,285.9 L484.7,285.0 L485.5,284.0 L486.3,283.0 L487.0,281.9 L487.7,280.8 L488.4,279.7 L489.0,278.6 L489.5,277.4 L490.0,276.3 L490.5,275.1 L490.9,273.9 L491.3,272.7 L491.6,271.5 L491.8,270.4 L492.0,269.2 L492.1,268.1 L492.2,267.0 L492.2,265.9 L492.1,264.9 L492.0,263.9 L491.8,262.9 L491.6,262.0 L491.3,261.2 L491.0,260.4 L490.6,259.6 L490.1,258.9 L489.6,258.3 L489.0,257.8 L488.5,257.3Z" fill="none" stroke="#666" stroke-width="0.6"/>
<path d="M485.2,259.4 L484.9,259.3 L484.7,259.1 L484.4,259.0 L484.2,258.9 L483.9,258.9 L483.6,258.8 L483.4,258.7 L483.1,258.7 L481.9,261.0 L481.7,260.9 L481.4,260.9 L481.2,260.9 L480.9,260.9 L480.7,260.9 L480.4,261.0 L480.2,261.0 L479.9,261.0 L479.6,261.1 L479.4,261.1 L479.5,258.9 L479.2,259.0 L478.9,259.1 L478.6,259.2 L478.2,259.4 L477.9,259.5 L477.6,259.6 L477.3,259.8 L476.9,260.0 L476.6,260.1 L476.3,262.4 L476.1,262.6 L475.8,262.7 L475.5,262.9 L475.2,263.1 L475.0,263.3 L474.7,263.5 L474.4,263.7 L474.1,264.0 L473.9,264.2 L473.1,262.7 L472.8,263.0 L472.5,263.3 L472.2,263.6 L471.9,263.9 L471.6,264.2 L471.3,264.5 L471.0,264.9 L470.7,265.2 L471.3,266.9 L471.1,267.2 L470.8,267.5 L470.6,267.8 L470.4,268.1 L470.2,268.4 L470.0,268.7 L469.7,269.1 L469.5,269.4 L469.3,269.7 L469.1,270.1 L467.6,269.7 L467.4,270.1 L467.2,270.5 L467.0,270.9 L466.8,271.3 L466.6,271.7 L466.4,272.1 L466.2,272.5 L466.1,273.0 L467.4,273.6 L467.3,273.9 L467.2,274.3 L467.1,274.7 L466.9,275.0 L466.8,275.4 L466.7,275.7 L466.6,276.1 L466.5,276.5 L466.5,276.8 L466.4,277.2 L464.6,278.0 L464.5,278.4 L464.4,278.8 L464.4,279.2 L464.3,279.6 L464.3,280.0 L464.3,280.4 L464.3,280.8 L464.2,281.2 L466.0,280.6 L466.0,280.9 L466.1,281.2 L466.1,281.5 L466.1,281.9 L466.1,282.2 L466.2,282.5 L466.2,282.8 L466.3,283.0 L466.3,283.3 L466.4,283.6 L464.8,285.4 L464.9,285.7 L465.0,286.0 L465.1,286.3 L465.2,286.6 L465.3,286.9 L465.5,287.2 L465.6,287.4 L465.8,287.7 L467.5,286.0 L467.6,286.2 L467.8,286.4 L467.9,286.6 L468.1,286.8 L468.2,286.9 L468.4,287.1 L468.6,287.3 L468.8,287.4 L469.0,287.5 L469.2,287.7 L468.1,290.0 L468.4,290.1 L468.6,290.2 L468.9,290.3 L469.1,290.4 L469.4,290.5 L469.6,290.6 L469.9,290.7 L470.2,290.7 L471.4,288.4 L471.6,288.4 L471.8,288.5 L472.1,288.5 L472.3,288.5 L472.6,288.4 L472.9,288.4 L473.1,288.4 L473.4,288.3 L473.6,288.3 L473.9,288.2 L473.8,290.5 L474.1,290.4 L474.4,290.3 L474.7,290.1 L475.0,290.0 L475.4,289.9 L475.7,289.7 L476.0,289.6 L476.3,289.4 L476.7,287.1 L476.9,287.0 L477.2,286.8 L477.5,286.6 L477.8,286.5 L478.0,286.3 L478.3,286.1 L478.6,285.9 L478.9,285.6 L479.1,285.4 L479.4,285.2 L480.2,286.7 L480.5,286.4 L480.8,286.1 L481.1,285.8 L481.4,285.5 L481.7,285.2 L482.0,284.9 L482.3,284.5 L482.6,284.2 L482.9,283.8 L482.2,282.2 L482.4,281.9 L482.7,281.6 L482.9,281.3 L483.1,281.0 L483.3,280.7 L483.5,280.3 L483.8,280.0 L484.0,279.7 L484.2,279.3 L485.7,279.7 L485.9,279.3 L486.1,278.9 L486.3,278.5 L486.5,278.1 L486.7,277.7 L486.9,277.3 L487.1,276.8 L487.2,276.4 L487.4,276.0 L486.0,275.4 L486.1,275.1 L486.2,274.7 L486.3,274.4 L486.4,274.0 L486.5,273.6 L486.6,273.3 L486.7,272.9 L486.8,272.6 L486.9,272.2 L488.7,271.4 L488.8,271.0 L488.8,270.6 L488.9,270.2 L488.9,269.8 L489.0,269.4 L489.0,269.0 L489.0,268.6 L489.0,268.2 L489.0,267.8 L487.2,268.5 L487.2,268.1 L487.2,267.8 L487.2,267.5 L487.2,267.2 L487.1,266.9 L487.1,266.6 L487.0,266.3 L486.9,266.1 L486.9,265.8 L488.5,263.9 L488.4,263.6 L488.3,263.3 L488.2,263.0 L488.1,262.7 L488.0,262.5 L487.8,262.2 L487.7,261.9 L487.5,261.7 L487.4,261.4 L485.7,263.2 L485.5,263.0 L485.4,262.8 L485.2,262.6 L485.0,262.4 L484.9,262.3 L484.7,262.1 L484.5,262.0 L484.3,261.8 L484.1,261.7Z" fill="#fff" stroke="#222" stroke-width="0.95"/>
<path d="M483.5,261.5 C478,268 473,278 471.5,287" fill="none" stroke="#333" stroke-width="0.8"/>
<line x1="483.2" y1="277.7" x2="586" y2="336.6" stroke="#333" stroke-width="0.9"/>
<ellipse cx="567.0" cy="323.6" rx="28.2" ry="17.3" transform="rotate(-61 567 323.6)" fill="#f7c98c" stroke="#3f3428" stroke-width="1.5"/>
<ellipse cx="569.2" cy="322.6" rx="25.8" ry="14.8" transform="rotate(-61 569.2 322.6)" fill="none" stroke="#8a6a45" stroke-width="0.7"/>
<ellipse cx="568.7" cy="324.7" rx="18.9" ry="11.1" transform="rotate(-61 568.7 324.7)" fill="none" stroke="#4e3c2a" stroke-width="0.9"/>
<ellipse cx="569.2" cy="324.7" rx="17.0" ry="9.8" transform="rotate(-61 569.2 324.7)" fill="none" stroke="#8a6a45" stroke-width="0.6"/>
<path d="M576.8,311.7 L577.0,311.8 L577.2,311.9 L577.4,312.1 L577.5,312.2 L577.7,312.3 L577.9,312.5 L578.1,312.7 L578.2,312.9 L578.4,313.0 L577.3,314.7 L577.5,314.9 L577.6,315.1 L577.7,315.3 L577.8,315.5 L577.9,315.7 L578.0,315.9 L578.1,316.1 L578.2,316.3 L578.3,316.5 L579.6,315.6 L579.7,315.8 L579.8,316.1 L579.9,316.4 L579.9,316.7 L580.0,317.0 L580.0,317.3 L580.0,317.6 L580.1,317.9 L580.1,318.2 L578.7,319.4 L578.7,319.6 L578.7,319.9 L578.7,320.2 L578.7,320.5 L578.7,320.8 L578.6,321.1 L578.6,321.4 L578.6,321.7 L578.5,322.0 L579.8,321.9 L579.7,322.3 L579.7,322.6 L579.6,323.0 L579.5,323.4 L579.4,323.7 L579.3,324.1 L579.2,324.4 L579.1,324.8 L578.9,325.2 L577.6,325.4 L577.5,325.7 L577.4,326.1 L577.2,326.4 L577.1,326.7 L577.0,327.0 L576.8,327.3 L576.7,327.6 L576.5,327.9 L576.4,328.2 L577.2,329.1 L577.0,329.4 L576.8,329.7 L576.6,330.1 L576.4,330.4 L576.2,330.7 L576.0,331.1 L575.7,331.4 L575.5,331.7 L575.3,332.0 L574.3,331.3 L574.1,331.6 L573.9,331.9 L573.7,332.1 L573.5,332.4 L573.3,332.6 L573.0,332.8 L572.8,333.1 L572.6,333.3 L572.4,333.5 L572.5,335.1 L572.3,335.3 L572.0,335.5 L571.7,335.7 L571.5,336.0 L571.2,336.2 L570.9,336.4 L570.6,336.6 L570.4,336.7 L570.1,336.9 L569.8,335.5 L569.5,335.6 L569.3,335.8 L569.0,335.9 L568.8,336.0 L568.6,336.1 L568.3,336.2 L568.1,336.3 L567.8,336.4 L567.6,336.5 L567.1,338.3 L566.8,338.4 L566.5,338.4 L566.2,338.5 L566.0,338.5 L565.7,338.6 L565.5,338.6 L565.2,338.6 L565.0,338.6 L564.7,338.6 L565.1,336.8 L564.9,336.8 L564.7,336.7 L564.5,336.7 L564.3,336.7 L564.1,336.6 L563.9,336.5 L563.7,336.5 L563.5,336.4 L563.4,336.3 L562.2,337.9 L562.0,337.8 L561.8,337.7 L561.6,337.5 L561.5,337.4 L561.3,337.3 L561.1,337.1 L560.9,336.9 L560.8,336.7 L560.6,336.6 L561.7,334.9 L561.5,334.7 L561.4,334.5 L561.3,334.3 L561.2,334.1 L561.1,333.9 L561.0,333.7 L560.9,333.5 L560.8,333.3 L560.7,333.1 L559.4,334.0 L559.3,333.8 L559.2,333.5 L559.1,333.2 L559.1,332.9 L559.0,332.6 L559.0,332.3 L559.0,332.0 L558.9,331.7 L558.9,331.4 L560.3,330.2 L560.3,330.0 L560.3,329.7 L560.3,329.4 L560.3,329.1 L560.3,328.8 L560.4,328.5 L560.4,328.2 L560.4,327.9 L560.5,327.6 L559.2,327.7 L559.3,327.3 L559.3,327.0 L559.4,326.6 L559.5,326.2 L559.6,325.9 L559.7,325.5 L559.8,325.2 L559.9,324.8 L560.1,324.4 L561.4,324.2 L561.5,323.9 L561.6,323.5 L561.8,323.2 L561.9,322.9 L562.0,322.6 L562.2,322.3 L562.3,322.0 L562.5,321.7 L562.6,321.4 L561.8,320.5 L562.0,320.2 L562.2,319.9 L562.4,319.5 L562.6,319.2 L562.8,318.9 L563.0,318.5 L563.3,318.2 L563.5,317.9 L563.7,317.6 L564.7,318.3 L564.9,318.0 L565.1,317.7 L565.3,317.5 L565.5,317.2 L565.7,317.0 L566.0,316.8 L566.2,316.5 L566.4,316.3 L566.6,316.1 L566.5,314.5 L566.7,314.3 L567.0,314.1 L567.3,313.9 L567.5,313.6 L567.8,313.4 L568.1,313.2 L568.4,313.0 L568.6,312.9 L568.9,312.7 L569.2,314.1 L569.5,314.0 L569.7,313.8 L570.0,313.7 L570.2,313.6 L570.4,313.5 L570.7,313.4 L570.9,313.3 L571.2,313.2 L571.4,313.1 L571.9,311.3 L572.2,311.2 L572.5,311.2 L572.8,311.1 L573.0,311.1 L573.3,311.0 L573.5,311.0 L573.8,311.0 L574.0,311.0 L574.3,311.0 L573.9,312.8 L574.1,312.8 L574.3,312.9 L574.5,312.9 L574.7,312.9 L574.9,313.0 L575.1,313.1 L575.3,313.1 L575.5,313.2 L575.6,313.3Z" fill="#f7c98c" stroke="#4e3c2a" stroke-width="0.85"/>
<line x1="563.5" y1="322.5" x2="586" y2="335.4" stroke="#333" stroke-width="0.9"/>
<g stroke="#2b3a42" stroke-width="1.1" fill="#d7eef7" stroke-linejoin="round">
<path d="M584.2,332.6 L601,341.2 L598.6,346.2 L582.0,337.6 A2.6,2.6 0 0 1 584.2,332.6 Z"/>
<path d="M598.6,348.7 C599,342 602,337.8 607.8,333.2 C611,331.8 615,331.6 622.3,335.9 L618,368 C614,368.5 612,368 611.4,367.8 L604.1,363.3 C600,359 598.3,353 598.6,348.7 Z"/>
</g>
<g stroke="#2b3a42" stroke-width="0.7" fill="none">
<line x1="601" y1="340" x2="607.5" y2="343.2"/>
<line x1="599.5" y1="346" x2="606.0" y2="349.2"/>
<line x1="599.5" y1="352" x2="606.0" y2="355.2"/>
<line x1="601" y1="358" x2="607.5" y2="361.2"/>
<line x1="604" y1="362.5" x2="610.5" y2="365.7"/>
<line x1="605" y1="336.5" x2="611.5" y2="339.7"/>
<line x1="610" y1="334.5" x2="616.5" y2="337.7"/>
<path d="M616,336.9 C610,342 607.5,352 608.7,367" stroke-width="0.9"/>
</g>
<g stroke="#2b3a42" stroke-width="1.15" fill="#d7eef7" stroke-linejoin="round">
<path d="M617.8,336.9 L629.6,336.9 L635.1,341 L642.4,345.1 L647,356.9 L640.6,371.5 L624.2,377.9 L609.6,367.8 L607.8,359.6 L609.6,345.1 Z"/>
<path d="M609.6,345.1 L625.1,351.4 L642.4,345.1 M625.1,351.4 L622.3,368.8 L624.2,377.9 M607.8,359.6 L622.3,368.8" fill="none" stroke-width="0.9"/>
<ellipse cx="633.7" cy="361.5" rx="6.0" ry="9.0" transform="rotate(15 633.7 361.5)" stroke-width="0.9"/>
</g>
<g stroke="#231f20" stroke-width="1.7" fill="none">
<path d="M602,108 L581.5,108 L581.5,303"/>
<path d="M655.6,231.4 L633.2,231.4 L633.2,342.5"/>
</g>
<circle cx="495.2" cy="539.7" r="49.4" fill="none" stroke="#333" stroke-width="1.6"/>
<g fill="none" stroke="#777" stroke-width="0.75">
<circle cx="495.2" cy="539.7" r="37.5"/>
<circle cx="495.2" cy="539.7" r="35.6"/>
<circle cx="495.2" cy="539.7" r="33.4"/>
</g>
<path d="M495.2,510.5 L495.5,510.5 L495.7,510.5 L496.0,510.5 L496.2,510.5 L496.5,510.5 L496.7,510.5 L497.0,510.6 L497.2,510.6 L497.5,510.6 L497.7,510.6 L498.0,510.6 L498.3,510.7 L498.5,510.7 L498.8,510.7 L499.0,510.7 L499.3,510.8 L499.1,513.4 L499.4,513.4 L499.6,513.5 L499.8,513.5 L500.0,513.5 L500.3,513.6 L500.5,513.6 L500.7,513.7 L501.0,513.7 L501.2,513.8 L501.4,513.8 L501.6,513.9 L501.9,513.9 L502.1,514.0 L502.3,514.1 L502.5,514.1 L502.8,514.2 L503.0,514.3 L503.2,514.3 L503.4,514.4 L503.6,514.5 L503.9,514.5 L504.1,514.6 L504.3,514.7 L504.5,514.8 L504.7,514.9 L504.9,515.0 L506.1,512.6 L506.4,512.7 L506.6,512.8 L506.8,512.9 L507.1,513.0 L507.3,513.1 L507.5,513.2 L507.8,513.3 L508.0,513.5 L508.2,513.6 L508.5,513.7 L508.7,513.8 L508.9,513.9 L509.1,514.0 L509.4,514.2 L509.6,514.3 L509.8,514.4 L510.0,514.5 L510.2,514.7 L510.5,514.8 L510.7,514.9 L510.9,515.1 L511.1,515.2 L511.3,515.4 L511.5,515.5 L511.7,515.6 L511.9,515.8 L512.2,515.9 L512.4,516.1 L512.6,516.2 L512.8,516.4 L513.0,516.5 L513.2,516.7 L511.8,518.9 L511.9,519.0 L512.1,519.2 L512.3,519.3 L512.5,519.5 L512.7,519.6 L512.8,519.8 L513.0,519.9 L513.2,520.1 L513.3,520.2 L513.5,520.4 L513.7,520.6 L513.8,520.7 L514.0,520.9 L514.2,521.1 L514.3,521.2 L514.5,521.4 L514.7,521.6 L514.8,521.7 L515.0,521.9 L515.1,522.1 L515.3,522.2 L515.4,522.4 L515.6,522.6 L515.7,522.8 L515.9,523.0 L516.0,523.1 L518.2,521.7 L518.4,521.9 L518.5,522.1 L518.7,522.3 L518.8,522.5 L519.0,522.7 L519.1,523.0 L519.3,523.2 L519.4,523.4 L519.5,523.6 L519.7,523.8 L519.8,524.0 L520.0,524.2 L520.1,524.4 L520.2,524.7 L520.4,524.9 L520.5,525.1 L520.6,525.3 L520.7,525.5 L520.9,525.8 L521.0,526.0 L521.1,526.2 L521.2,526.4 L521.3,526.7 L521.4,526.9 L521.6,527.1 L521.7,527.4 L521.8,527.6 L521.9,527.8 L522.0,528.1 L522.1,528.3 L522.2,528.5 L522.3,528.8 L519.9,530.0 L520.0,530.2 L520.1,530.4 L520.2,530.6 L520.3,530.8 L520.4,531.0 L520.4,531.3 L520.5,531.5 L520.6,531.7 L520.6,531.9 L520.7,532.1 L520.8,532.4 L520.8,532.6 L520.9,532.8 L521.0,533.0 L521.0,533.3 L521.1,533.5 L521.1,533.7 L521.2,533.9 L521.2,534.2 L521.3,534.4 L521.3,534.6 L521.4,534.9 L521.4,535.1 L521.4,535.3 L521.5,535.5 L521.5,535.8 L524.1,535.6 L524.2,535.9 L524.2,536.1 L524.2,536.4 L524.2,536.6 L524.3,536.9 L524.3,537.2 L524.3,537.4 L524.3,537.7 L524.3,537.9 L524.4,538.2 L524.4,538.4 L524.4,538.7 L524.4,538.9 L524.4,539.2 L524.4,539.4 L524.4,539.7 L524.4,540.0 L524.4,540.2 L524.4,540.5 L524.4,540.7 L524.4,541.0 L524.4,541.2 L524.3,541.5 L524.3,541.7 L524.3,542.0 L524.3,542.2 L524.3,542.5 L524.2,542.8 L524.2,543.0 L524.2,543.3 L524.2,543.5 L524.1,543.8 L521.5,543.6 L521.5,543.9 L521.4,544.1 L521.4,544.3 L521.4,544.5 L521.3,544.8 L521.3,545.0 L521.2,545.2 L521.2,545.5 L521.1,545.7 L521.1,545.9 L521.0,546.1 L521.0,546.4 L520.9,546.6 L520.8,546.8 L520.8,547.0 L520.7,547.3 L520.6,547.5 L520.6,547.7 L520.5,547.9 L520.4,548.1 L520.4,548.4 L520.3,548.6 L520.2,548.8 L520.1,549.0 L520.0,549.2 L519.9,549.4 L522.3,550.6 L522.2,550.9 L522.1,551.1 L522.0,551.3 L521.9,551.6 L521.8,551.8 L521.7,552.0 L521.6,552.3 L521.4,552.5 L521.3,552.7 L521.2,553.0 L521.1,553.2 L521.0,553.4 L520.9,553.6 L520.7,553.9 L520.6,554.1 L520.5,554.3 L520.4,554.5 L520.2,554.7 L520.1,555.0 L520.0,555.2 L519.8,555.4 L519.7,555.6 L519.5,555.8 L519.4,556.0 L519.3,556.2 L519.1,556.4 L519.0,556.7 L518.8,556.9 L518.7,557.1 L518.5,557.3 L518.4,557.5 L518.2,557.7 L516.0,556.3 L515.9,556.4 L515.7,556.6 L515.6,556.8 L515.4,557.0 L515.3,557.2 L515.1,557.3 L515.0,557.5 L514.8,557.7 L514.7,557.8 L514.5,558.0 L514.3,558.2 L514.2,558.3 L514.0,558.5 L513.8,558.7 L513.7,558.8 L513.5,559.0 L513.3,559.2 L513.2,559.3 L513.0,559.5 L512.8,559.6 L512.7,559.8 L512.5,559.9 L512.3,560.1 L512.1,560.2 L511.9,560.4 L511.8,560.5 L513.2,562.7 L513.0,562.9 L512.8,563.0 L512.6,563.2 L512.4,563.3 L512.2,563.5 L511.9,563.6 L511.7,563.8 L511.5,563.9 L511.3,564.0 L511.1,564.2 L510.9,564.3 L510.7,564.5 L510.5,564.6 L510.2,564.7 L510.0,564.9 L509.8,565.0 L509.6,565.1 L509.4,565.2 L509.1,565.4 L508.9,565.5 L508.7,565.6 L508.5,565.7 L508.2,565.8 L508.0,565.9 L507.8,566.1 L507.5,566.2 L507.3,566.3 L507.1,566.4 L506.8,566.5 L506.6,566.6 L506.4,566.7 L506.1,566.8 L504.9,564.4 L504.7,564.5 L504.5,564.6 L504.3,564.7 L504.1,564.8 L503.9,564.9 L503.6,564.9 L503.4,565.0 L503.2,565.1 L503.0,565.1 L502.8,565.2 L502.5,565.3 L502.3,565.3 L502.1,565.4 L501.9,565.5 L501.6,565.5 L501.4,565.6 L501.2,565.6 L501.0,565.7 L500.7,565.7 L500.5,565.8 L500.3,565.8 L500.0,565.9 L499.8,565.9 L499.6,565.9 L499.4,566.0 L499.1,566.0 L499.3,568.6 L499.0,568.7 L498.8,568.7 L498.5,568.7 L498.3,568.7 L498.0,568.8 L497.7,568.8 L497.5,568.8 L497.2,568.8 L497.0,568.8 L496.7,568.9 L496.5,568.9 L496.2,568.9 L496.0,568.9 L495.7,568.9 L495.5,568.9 L495.2,568.9 L494.9,568.9 L494.7,568.9 L494.4,568.9 L494.2,568.9 L493.9,568.9 L493.7,568.9 L493.4,568.8 L493.2,568.8 L492.9,568.8 L492.7,568.8 L492.4,568.8 L492.1,568.7 L491.9,568.7 L491.6,568.7 L491.4,568.7 L491.1,568.6 L491.3,566.0 L491.0,566.0 L490.8,565.9 L490.6,565.9 L490.4,565.9 L490.1,565.8 L489.9,565.8 L489.7,565.7 L489.4,565.7 L489.2,565.6 L489.0,565.6 L488.8,565.5 L488.5,565.5 L488.3,565.4 L488.1,565.3 L487.9,565.3 L487.6,565.2 L487.4,565.1 L487.2,565.1 L487.0,565.0 L486.8,564.9 L486.5,564.9 L486.3,564.8 L486.1,564.7 L485.9,564.6 L485.7,564.5 L485.5,564.4 L484.3,566.8 L484.0,566.7 L483.8,566.6 L483.6,566.5 L483.3,566.4 L483.1,566.3 L482.9,566.2 L482.6,566.1 L482.4,565.9 L482.2,565.8 L481.9,565.7 L481.7,565.6 L481.5,565.5 L481.3,565.4 L481.0,565.2 L480.8,565.1 L480.6,565.0 L480.4,564.9 L480.2,564.7 L479.9,564.6 L479.7,564.5 L479.5,564.3 L479.3,564.2 L479.1,564.0 L478.9,563.9 L478.7,563.8 L478.5,563.6 L478.2,563.5 L478.0,563.3 L477.8,563.2 L477.6,563.0 L477.4,562.9 L477.2,562.7 L478.6,560.5 L478.5,560.4 L478.3,560.2 L478.1,560.1 L477.9,559.9 L477.7,559.8 L477.6,559.6 L477.4,559.5 L477.2,559.3 L477.1,559.2 L476.9,559.0 L476.7,558.8 L476.6,558.7 L476.4,558.5 L476.2,558.3 L476.1,558.2 L475.9,558.0 L475.7,557.8 L475.6,557.7 L475.4,557.5 L475.3,557.3 L475.1,557.2 L475.0,557.0 L474.8,556.8 L474.7,556.6 L474.5,556.4 L474.4,556.3 L472.2,557.7 L472.0,557.5 L471.9,557.3 L471.7,557.1 L471.6,556.9 L471.4,556.7 L471.3,556.4 L471.1,556.2 L471.0,556.0 L470.9,555.8 L470.7,555.6 L470.6,555.4 L470.4,555.2 L470.3,555.0 L470.2,554.7 L470.0,554.5 L469.9,554.3 L469.8,554.1 L469.7,553.9 L469.5,553.6 L469.4,553.4 L469.3,553.2 L469.2,553.0 L469.1,552.7 L469.0,552.5 L468.8,552.3 L468.7,552.0 L468.6,551.8 L468.5,551.6 L468.4,551.3 L468.3,551.1 L468.2,550.9 L468.1,550.6 L470.5,549.4 L470.4,549.2 L470.3,549.0 L470.2,548.8 L470.1,548.6 L470.0,548.4 L470.0,548.1 L469.9,547.9 L469.8,547.7 L469.8,547.5 L469.7,547.3 L469.6,547.0 L469.6,546.8 L469.5,546.6 L469.4,546.4 L469.4,546.1 L469.3,545.9 L469.3,545.7 L469.2,545.5 L469.2,545.2 L469.1,545.0 L469.1,544.8 L469.0,544.5 L469.0,544.3 L469.0,544.1 L468.9,543.9 L468.9,543.6 L466.3,543.8 L466.2,543.5 L466.2,543.3 L466.2,543.0 L466.2,542.8 L466.1,542.5 L466.1,542.2 L466.1,542.0 L466.1,541.7 L466.1,541.5 L466.0,541.2 L466.0,541.0 L466.0,540.7 L466.0,540.5 L466.0,540.2 L466.0,540.0 L466.0,539.7 L466.0,539.4 L466.0,539.2 L466.0,538.9 L466.0,538.7 L466.0,538.4 L466.0,538.2 L466.1,537.9 L466.1,537.7 L466.1,537.4 L466.1,537.2 L466.1,536.9 L466.2,536.6 L466.2,536.4 L466.2,536.1 L466.2,535.9 L466.3,535.6 L468.9,535.8 L468.9,535.5 L469.0,535.3 L469.0,535.1 L469.0,534.9 L469.1,534.6 L469.1,534.4 L469.2,534.2 L469.2,533.9 L469.3,533.7 L469.3,533.5 L469.4,533.3 L469.4,533.0 L469.5,532.8 L469.6,532.6 L469.6,532.4 L469.7,532.1 L469.8,531.9 L469.8,531.7 L469.9,531.5 L470.0,531.3 L470.0,531.0 L470.1,530.8 L470.2,530.6 L470.3,530.4 L470.4,530.2 L470.5,530.0 L468.1,528.8 L468.2,528.5 L468.3,528.3 L468.4,528.1 L468.5,527.8 L468.6,527.6 L468.7,527.4 L468.8,527.1 L469.0,526.9 L469.1,526.7 L469.2,526.4 L469.3,526.2 L469.4,526.0 L469.5,525.8 L469.7,525.5 L469.8,525.3 L469.9,525.1 L470.0,524.9 L470.2,524.7 L470.3,524.4 L470.4,524.2 L470.6,524.0 L470.7,523.8 L470.9,523.6 L471.0,523.4 L471.1,523.2 L471.3,523.0 L471.4,522.7 L471.6,522.5 L471.7,522.3 L471.9,522.1 L472.0,521.9 L472.2,521.7 L474.4,523.1 L474.5,523.0 L474.7,522.8 L474.8,522.6 L475.0,522.4 L475.1,522.2 L475.3,522.1 L475.4,521.9 L475.6,521.7 L475.7,521.6 L475.9,521.4 L476.1,521.2 L476.2,521.1 L476.4,520.9 L476.6,520.7 L476.7,520.6 L476.9,520.4 L477.1,520.2 L477.2,520.1 L477.4,519.9 L477.6,519.8 L477.7,519.6 L477.9,519.5 L478.1,519.3 L478.3,519.2 L478.5,519.0 L478.6,518.9 L477.2,516.7 L477.4,516.5 L477.6,516.4 L477.8,516.2 L478.0,516.1 L478.2,515.9 L478.5,515.8 L478.7,515.6 L478.9,515.5 L479.1,515.4 L479.3,515.2 L479.5,515.1 L479.7,514.9 L479.9,514.8 L480.2,514.7 L480.4,514.5 L480.6,514.4 L480.8,514.3 L481.0,514.2 L481.3,514.0 L481.5,513.9 L481.7,513.8 L481.9,513.7 L482.2,513.6 L482.4,513.5 L482.6,513.3 L482.9,513.2 L483.1,513.1 L483.3,513.0 L483.6,512.9 L483.8,512.8 L484.0,512.7 L484.3,512.6 L485.5,515.0 L485.7,514.9 L485.9,514.8 L486.1,514.7 L486.3,514.6 L486.5,514.5 L486.8,514.5 L487.0,514.4 L487.2,514.3 L487.4,514.3 L487.6,514.2 L487.9,514.1 L488.1,514.1 L488.3,514.0 L488.5,513.9 L488.8,513.9 L489.0,513.8 L489.2,513.8 L489.4,513.7 L489.7,513.7 L489.9,513.6 L490.1,513.6 L490.4,513.5 L490.6,513.5 L490.8,513.5 L491.0,513.4 L491.3,513.4 L491.1,510.8 L491.4,510.7 L491.6,510.7 L491.9,510.7 L492.1,510.7 L492.4,510.6 L492.7,510.6 L492.9,510.6 L493.2,510.6 L493.4,510.6 L493.7,510.5 L493.9,510.5 L494.2,510.5 L494.4,510.5 L494.7,510.5 L494.9,510.5Z" fill="none" stroke="#222" stroke-width="1.3" stroke-linejoin="miter"/>
<g fill="none" stroke="#999" stroke-width="0.6"><circle cx="495.2" cy="539.7" r="28.2"/></g>
<path d="M875.9,539.7 L875.9,539.9 L875.9,540.1 L875.9,540.3 L875.7,540.6 L875.1,540.8 L874.8,541.0 L874.6,541.2 L874.4,541.4 L874.3,541.6 L874.2,541.8 L874.2,542.0 L874.1,542.2 L874.1,542.4 L874.1,542.6 L874.2,542.8 L874.2,543.0 L874.3,543.3 L874.4,543.5 L874.5,543.7 L874.8,543.9 L875.1,544.2 L875.7,544.4 L875.7,544.6 L875.6,544.9 L875.6,545.1 L875.6,545.3 L875.6,545.5 L875.5,545.7 L875.5,545.9 L875.5,546.1 L875.4,546.4 L875.4,546.6 L875.4,546.8 L875.4,547.0 L875.3,547.2 L875.3,547.4 L875.3,547.6 L875.2,547.9 L875.2,548.1 L875.1,548.3 L875.1,548.5 L875.1,548.7 L875.0,548.9 L875.0,549.1 L875.0,549.3 L874.9,549.5 L874.9,549.8 L874.8,550.0 L874.8,550.2 L874.7,550.4 L874.7,550.6 L874.6,550.8 L874.6,551.0 L874.5,551.2 L874.5,551.4 L874.4,551.7 L874.4,551.9 L874.3,552.1 L874.3,552.3 L874.2,552.5 L874.2,552.7 L874.1,552.9 L874.0,553.1 L874.0,553.3 L873.9,553.5 L873.9,553.7 L873.8,553.9 L873.7,554.1 L873.7,554.3 L873.0,554.4 L872.6,554.5 L872.3,554.6 L872.1,554.7 L871.9,554.9 L871.8,555.1 L871.7,555.2 L871.5,555.4 L871.5,555.6 L871.4,555.8 L871.4,556.0 L871.3,556.2 L871.3,556.5 L871.4,556.7 L871.4,556.9 L871.5,557.2 L871.7,557.5 L872.4,558.0 L872.3,558.2 L872.2,558.4 L872.1,558.6 L872.1,558.8 L872.0,559.0 L871.9,559.2 L871.8,559.4 L871.7,559.6 L871.6,559.8 L871.5,560.0 L871.5,560.2 L871.4,560.4 L871.3,560.6 L871.2,560.8 L871.1,561.0 L871.0,561.2 L870.9,561.4 L870.8,561.5 L870.7,561.7 L870.6,561.9 L870.5,562.1 L870.4,562.3 L870.3,562.5 L870.2,562.7 L870.1,562.9 L870.0,563.1 L869.9,563.3 L869.8,563.5 L869.7,563.6 L869.6,563.8 L869.5,564.0 L869.4,564.2 L869.3,564.4 L869.2,564.6 L869.1,564.8 L869.0,565.0 L868.8,565.1 L868.7,565.3 L868.6,565.5 L868.5,565.7 L868.4,565.9 L868.3,566.1 L868.2,566.2 L868.0,566.4 L867.9,566.6 L867.8,566.8 L867.7,567.0 L867.3,566.9 L866.7,566.8 L866.4,566.9 L866.1,566.9 L865.9,567.0 L865.7,567.1 L865.5,567.3 L865.4,567.4 L865.2,567.6 L865.1,567.7 L865.0,567.9 L864.9,568.1 L864.8,568.3 L864.8,568.5 L864.8,568.8 L864.8,569.1 L864.8,569.4 L865.0,569.8 L865.3,570.3 L865.2,570.5 L865.0,570.6 L864.9,570.8 L864.8,571.0 L864.6,571.1 L864.5,571.3 L864.3,571.5 L864.2,571.6 L864.1,571.8 L863.9,571.9 L863.8,572.1 L863.6,572.3 L863.5,572.4 L863.4,572.6 L863.2,572.8 L863.1,572.9 L862.9,573.1 L862.8,573.2 L862.6,573.4 L862.5,573.5 L862.3,573.7 L862.2,573.9 L862.0,574.0 L861.9,574.2 L861.7,574.3 L861.6,574.5 L861.4,574.6 L861.3,574.8 L861.1,574.9 L861.0,575.1 L860.8,575.2 L860.7,575.4 L860.5,575.5 L860.3,575.7 L860.2,575.8 L860.0,576.0 L859.9,576.1 L859.7,576.3 L859.6,576.4 L859.4,576.6 L859.2,576.7 L859.1,576.8 L858.9,577.0 L858.7,577.1 L858.6,577.3 L858.4,577.4 L858.3,577.5 L857.6,577.1 L857.3,577.0 L857.0,577.0 L856.7,577.0 L856.5,577.0 L856.3,577.1 L856.1,577.2 L855.9,577.3 L855.7,577.4 L855.5,577.6 L855.4,577.7 L855.3,577.9 L855.1,578.1 L855.0,578.3 L855.0,578.5 L854.9,578.8 L854.9,579.2 L855.2,579.9 L855.0,580.0 L854.8,580.2 L854.7,580.3 L854.5,580.4 L854.3,580.5 L854.1,580.7 L853.9,580.8 L853.8,580.9 L853.6,581.0 L853.4,581.1 L853.2,581.2 L853.0,581.4 L852.9,581.5 L852.7,581.6 L852.5,581.7 L852.3,581.8 L852.1,581.9 L851.9,582.0 L851.8,582.2 L851.6,582.3 L851.4,582.4 L851.2,582.5 L851.0,582.6 L850.8,582.7 L850.6,582.8 L850.4,582.9 L850.3,583.0 L850.1,583.1 L849.9,583.2 L849.7,583.3 L849.5,583.4 L849.3,583.5 L849.1,583.6 L848.9,583.7 L848.7,583.8 L848.5,583.9 L848.3,584.0 L848.2,584.1 L848.0,584.2 L847.8,584.3 L847.6,584.4 L847.4,584.5 L847.2,584.6 L847.0,584.7 L846.8,584.7 L846.6,584.8 L846.4,584.9 L846.0,584.6 L845.6,584.3 L845.4,584.1 L845.1,584.0 L844.8,584.0 L844.6,584.0 L844.4,584.0 L844.2,584.0 L844.0,584.1 L843.8,584.2 L843.6,584.3 L843.4,584.4 L843.3,584.5 L843.1,584.7 L842.9,584.9 L842.8,585.1 L842.7,585.4 L842.6,585.9 L842.6,586.4 L842.4,586.5 L842.2,586.5 L842.0,586.6 L841.8,586.7 L841.6,586.7 L841.4,586.8 L841.1,586.9 L840.9,586.9 L840.7,587.0 L840.5,587.1 L840.3,587.1 L840.1,587.2 L839.9,587.2 L839.7,587.3 L839.5,587.4 L839.3,587.4 L839.1,587.5 L838.9,587.5 L838.7,587.6 L838.5,587.6 L838.2,587.7 L838.0,587.7 L837.8,587.8 L837.6,587.8 L837.4,587.9 L837.2,587.9 L837.0,588.0 L836.8,588.0 L836.6,588.1 L836.3,588.1 L836.1,588.2 L835.9,588.2 L835.7,588.2 L835.5,588.3 L835.3,588.3 L835.1,588.3 L834.9,588.4 L834.7,588.4 L834.4,588.5 L834.2,588.5 L834.0,588.5 L833.8,588.6 L833.6,588.6 L833.4,588.6 L833.2,588.6 L832.9,588.7 L832.7,588.7 L832.4,588.0 L832.2,587.7 L831.9,587.5 L831.7,587.4 L831.5,587.3 L831.3,587.3 L831.1,587.2 L830.9,587.2 L830.7,587.2 L830.5,587.2 L830.2,587.3 L830.0,587.4 L829.8,587.5 L829.6,587.6 L829.4,587.8 L829.2,588.0 L829.1,588.4 L828.9,589.0 L828.7,589.1 L828.4,589.1 L828.2,589.1 L828.0,589.1 L827.8,589.1 L827.6,589.1 L827.4,589.1 L827.1,589.1 L826.9,589.1 L826.7,589.1 L826.5,589.1 L826.3,589.1 L826.1,589.1 L825.9,589.1 L825.6,589.1 L825.4,589.1 L825.2,589.1 L825.0,589.1 L824.8,589.1 L824.6,589.1 L824.3,589.1 L824.1,589.0 L823.9,589.0 L823.7,589.0 L823.5,589.0 L823.3,589.0 L823.1,589.0 L822.8,589.0 L822.6,588.9 L822.4,588.9 L822.2,588.9 L822.0,588.9 L821.8,588.9 L821.6,588.9 L821.3,588.8 L821.1,588.8 L820.9,588.8 L820.7,588.8 L820.5,588.7 L820.3,588.7 L820.1,588.7 L819.8,588.6 L819.6,588.6 L819.4,588.6 L819.2,588.6 L819.0,588.5 L818.8,588.5 L818.6,587.9 L818.5,587.5 L818.3,587.2 L818.2,587.0 L818.0,586.9 L817.8,586.7 L817.6,586.6 L817.4,586.5 L817.2,586.5 L817.0,586.4 L816.8,586.4 L816.6,586.4 L816.3,586.5 L816.1,586.5 L815.9,586.6 L815.6,586.7 L815.4,587.0 L815.0,587.4 L814.8,587.7 L814.5,587.6 L814.3,587.6 L814.1,587.5 L813.9,587.5 L813.7,587.4 L813.5,587.4 L813.3,587.3 L813.1,587.2 L812.9,587.2 L812.7,587.1 L812.5,587.1 L812.3,587.0 L812.1,586.9 L811.9,586.9 L811.6,586.8 L811.4,586.7 L811.2,586.7 L811.0,586.6 L810.8,586.5 L810.6,586.5 L810.4,586.4 L810.2,586.3 L810.0,586.3 L809.8,586.2 L809.6,586.1 L809.4,586.0 L809.2,586.0 L809.0,585.9 L808.8,585.8 L808.6,585.7 L808.4,585.7 L808.2,585.6 L808.0,585.5 L807.8,585.4 L807.6,585.3 L807.4,585.3 L807.2,585.2 L807.0,585.1 L806.8,585.0 L806.6,584.9 L806.4,584.8 L806.2,584.7 L806.0,584.7 L805.8,584.6 L805.6,584.5 L805.4,584.4 L805.2,584.3 L805.4,583.5 L805.3,583.1 L805.2,582.9 L805.1,582.6 L805.0,582.4 L804.8,582.3 L804.6,582.1 L804.5,582.0 L804.3,581.9 L804.1,581.8 L803.9,581.8 L803.7,581.7 L803.5,581.7 L803.2,581.7 L803.0,581.7 L802.7,581.8 L802.3,582.1 L801.8,582.5 L801.6,582.4 L801.4,582.3 L801.2,582.2 L801.1,582.0 L800.9,581.9 L800.7,581.8 L800.5,581.7 L800.3,581.6 L800.1,581.5 L800.0,581.4 L799.8,581.2 L799.6,581.1 L799.4,581.0 L799.2,580.9 L799.1,580.8 L798.9,580.7 L798.7,580.5 L798.5,580.4 L798.3,580.3 L798.2,580.2 L798.0,580.0 L797.8,579.9 L797.6,579.8 L797.5,579.7 L797.3,579.5 L797.1,579.4 L796.9,579.3 L796.8,579.2 L796.6,579.0 L796.4,578.9 L796.3,578.8 L796.1,578.6 L795.9,578.5 L795.7,578.4 L795.6,578.2 L795.4,578.1 L795.2,578.0 L795.1,577.8 L794.9,577.7 L794.7,577.5 L794.6,577.4 L794.4,577.3 L794.3,577.1 L794.1,577.0 L793.9,576.8 L793.8,576.7 L793.6,576.6 L793.8,576.0 L793.9,575.6 L793.9,575.2 L793.9,575.0 L793.8,574.7 L793.7,574.5 L793.6,574.3 L793.5,574.2 L793.4,574.0 L793.2,573.9 L793.0,573.7 L792.9,573.6 L792.7,573.5 L792.4,573.5 L792.2,573.4 L791.9,573.4 L791.5,573.5 L790.9,573.7 L790.7,573.7 L790.5,573.5 L790.4,573.4 L790.2,573.2 L790.1,573.1 L789.9,572.9 L789.8,572.8 L789.6,572.6 L789.5,572.4 L789.4,572.3 L789.2,572.1 L789.1,571.9 L788.9,571.8 L788.8,571.6 L788.7,571.5 L788.5,571.3 L788.4,571.1 L788.2,571.0 L788.1,570.8 L788.0,570.6 L787.8,570.5 L787.7,570.3 L787.6,570.1 L787.4,569.9 L787.3,569.8 L787.2,569.6 L787.0,569.4 L786.9,569.3 L786.8,569.1 L786.7,568.9 L786.5,568.7 L786.4,568.6 L786.3,568.4 L786.2,568.2 L786.0,568.0 L785.9,567.9 L785.8,567.7 L785.7,567.5 L785.5,567.3 L785.4,567.1 L785.3,567.0 L785.2,566.8 L785.1,566.6 L785.0,566.4 L784.8,566.2 L784.7,566.1 L784.6,565.9 L784.7,565.5 L785.1,565.1 L785.2,564.8 L785.3,564.5 L785.3,564.2 L785.3,564.0 L785.2,563.8 L785.2,563.6 L785.1,563.4 L785.0,563.2 L784.9,563.0 L784.7,562.9 L784.6,562.7 L784.4,562.6 L784.2,562.4 L783.9,562.3 L783.6,562.3 L783.2,562.3 L782.6,562.3 L782.5,562.1 L782.4,561.9 L782.3,561.7 L782.2,561.5 L782.1,561.4 L782.0,561.2 L781.9,561.0 L781.8,560.8 L781.7,560.6 L781.6,560.4 L781.5,560.2 L781.5,560.0 L781.4,559.8 L781.3,559.6 L781.2,559.4 L781.1,559.2 L781.0,559.0 L780.9,558.8 L780.9,558.6 L780.8,558.4 L780.7,558.2 L780.6,558.0 L780.5,557.8 L780.5,557.6 L780.4,557.4 L780.3,557.2 L780.2,557.0 L780.2,556.8 L780.1,556.6 L780.0,556.4 L779.9,556.2 L779.9,556.0 L779.8,555.8 L779.7,555.6 L779.7,555.4 L779.6,555.2 L779.5,555.0 L779.5,554.8 L779.4,554.6 L779.3,554.3 L779.3,554.1 L779.2,553.9 L779.1,553.7 L779.1,553.5 L779.0,553.3 L779.0,553.1 L778.9,552.9 L779.5,552.5 L779.7,552.2 L779.9,552.0 L780.0,551.7 L780.1,551.5 L780.1,551.3 L780.1,551.0 L780.1,550.8 L780.1,550.6 L780.0,550.4 L779.9,550.2 L779.8,550.0 L779.7,549.9 L779.6,549.7 L779.4,549.5 L779.1,549.3 L778.8,549.2 L778.0,549.1 L778.0,548.9 L777.9,548.7 L777.9,548.5 L777.9,548.3 L777.8,548.1 L777.8,547.9 L777.7,547.6 L777.7,547.4 L777.7,547.2 L777.6,547.0 L777.6,546.8 L777.6,546.6 L777.6,546.4 L777.5,546.1 L777.5,545.9 L777.5,545.7 L777.4,545.5 L777.4,545.3 L777.4,545.1 L777.4,544.9 L777.3,544.6 L777.3,544.4 L777.3,544.2 L777.3,544.0 L777.3,543.8 L777.3,543.6 L777.2,543.4 L777.2,543.1 L777.2,542.9 L777.2,542.7 L777.2,542.5 L777.2,542.3 L777.2,542.1 L777.1,541.9 L777.1,541.6 L777.1,541.4 L777.1,541.2 L777.1,541.0 L777.1,540.8 L777.1,540.6 L777.1,540.3 L777.1,540.1 L777.1,539.9 L777.1,539.7 L777.1,539.5 L777.1,539.3 L777.1,539.1 L777.5,538.8 L778.0,538.6 L778.2,538.4 L778.4,538.2 L778.6,538.0 L778.7,537.8 L778.8,537.6 L778.8,537.4 L778.9,537.2 L778.9,537.0 L778.9,536.8 L778.8,536.6 L778.8,536.4 L778.7,536.1 L778.6,535.9 L778.4,535.7 L778.2,535.5 L777.8,535.2 L777.3,535.0 L777.3,534.8 L777.4,534.5 L777.4,534.3 L777.4,534.1 L777.4,533.9 L777.5,533.7 L777.5,533.5 L777.5,533.3 L777.6,533.0 L777.6,532.8 L777.6,532.6 L777.6,532.4 L777.7,532.2 L777.7,532.0 L777.7,531.8 L777.8,531.5 L777.8,531.3 L777.9,531.1 L777.9,530.9 L777.9,530.7 L778.0,530.5 L778.0,530.3 L778.0,530.1 L778.1,529.9 L778.1,529.6 L778.2,529.4 L778.2,529.2 L778.3,529.0 L778.3,528.8 L778.4,528.6 L778.4,528.4 L778.5,528.2 L778.5,528.0 L778.6,527.7 L778.6,527.5 L778.7,527.3 L778.7,527.1 L778.8,526.9 L778.8,526.7 L778.9,526.5 L779.0,526.3 L779.0,526.1 L779.1,525.9 L779.1,525.7 L779.2,525.5 L779.3,525.3 L779.3,525.1 L780.1,525.1 L780.4,525.0 L780.7,524.8 L780.9,524.7 L781.1,524.5 L781.2,524.3 L781.4,524.2 L781.5,524.0 L781.5,523.8 L781.6,523.6 L781.6,523.4 L781.7,523.2 L781.6,522.9 L781.6,522.7 L781.5,522.4 L781.4,522.2 L781.2,521.9 L780.6,521.4 L780.7,521.2 L780.8,521.0 L780.9,520.8 L780.9,520.6 L781.0,520.4 L781.1,520.2 L781.2,520.0 L781.3,519.8 L781.4,519.6 L781.5,519.4 L781.5,519.2 L781.6,519.0 L781.7,518.8 L781.8,518.6 L781.9,518.4 L782.0,518.2 L782.1,518.0 L782.2,517.9 L782.3,517.7 L782.4,517.5 L782.5,517.3 L782.6,517.1 L782.7,516.9 L782.8,516.7 L782.9,516.5 L783.0,516.3 L783.1,516.1 L783.2,515.9 L783.3,515.8 L783.4,515.6 L783.5,515.4 L783.6,515.2 L783.7,515.0 L783.8,514.8 L783.9,514.6 L784.0,514.4 L784.2,514.3 L784.3,514.1 L784.4,513.9 L784.5,513.7 L784.6,513.5 L784.7,513.3 L784.8,513.2 L785.0,513.0 L785.1,512.8 L785.2,512.6 L785.3,512.4 L785.8,512.5 L786.3,512.6 L786.6,512.5 L786.9,512.5 L787.1,512.4 L787.3,512.3 L787.5,512.1 L787.6,512.0 L787.8,511.8 L787.9,511.7 L788.0,511.5 L788.1,511.3 L788.2,511.1 L788.2,510.8 L788.2,510.6 L788.2,510.3 L788.1,510.0 L787.9,509.5 L787.7,509.1 L787.8,508.9 L788.0,508.8 L788.1,508.6 L788.2,508.4 L788.4,508.3 L788.5,508.1 L788.7,507.9 L788.8,507.8 L788.9,507.6 L789.1,507.5 L789.2,507.3 L789.4,507.1 L789.5,507.0 L789.6,506.8 L789.8,506.6 L789.9,506.5 L790.1,506.3 L790.2,506.2 L790.4,506.0 L790.5,505.9 L790.7,505.7 L790.8,505.5 L791.0,505.4 L791.1,505.2 L791.3,505.1 L791.4,504.9 L791.6,504.8 L791.7,504.6 L791.9,504.5 L792.0,504.3 L792.2,504.2 L792.3,504.0 L792.5,503.9 L792.7,503.7 L792.8,503.6 L793.0,503.4 L793.1,503.3 L793.3,503.1 L793.4,503.0 L793.6,502.8 L793.8,502.7 L793.9,502.6 L794.1,502.4 L794.3,502.3 L794.4,502.1 L794.6,502.0 L794.7,501.9 L795.4,502.3 L795.8,502.4 L796.0,502.4 L796.3,502.4 L796.5,502.4 L796.7,502.3 L796.9,502.2 L797.1,502.1 L797.3,502.0 L797.5,501.8 L797.6,501.7 L797.7,501.5 L797.8,501.3 L797.9,501.1 L798.0,500.8 L798.1,500.5 L798.0,500.1 L797.8,499.5 L798.0,499.4 L798.2,499.2 L798.3,499.1 L798.5,499.0 L798.7,498.9 L798.9,498.7 L799.1,498.6 L799.2,498.5 L799.4,498.4 L799.6,498.3 L799.8,498.2 L800.0,498.0 L800.1,497.9 L800.3,497.8 L800.5,497.7 L800.7,497.6 L800.9,497.5 L801.1,497.4 L801.2,497.2 L801.4,497.1 L801.6,497.0 L801.8,496.9 L802.0,496.8 L802.2,496.7 L802.4,496.6 L802.6,496.5 L802.7,496.4 L802.9,496.3 L803.1,496.2 L803.3,496.1 L803.5,496.0 L803.7,495.9 L803.9,495.8 L804.1,495.7 L804.3,495.6 L804.5,495.5 L804.7,495.4 L804.8,495.3 L805.0,495.2 L805.2,495.1 L805.4,495.0 L805.6,494.9 L805.8,494.8 L806.0,494.7 L806.2,494.7 L806.4,494.6 L806.6,494.5 L807.0,494.9 L807.4,495.2 L807.7,495.3 L807.9,495.4 L808.2,495.4 L808.4,495.4 L808.6,495.4 L808.8,495.4 L809.0,495.3 L809.2,495.2 L809.4,495.1 L809.6,495.0 L809.7,494.9 L809.9,494.7 L810.0,494.5 L810.2,494.2 L810.3,493.9 L810.3,493.3 L810.4,493.0 L810.6,492.9 L810.8,492.9 L811.0,492.8 L811.2,492.7 L811.4,492.7 L811.6,492.6 L811.9,492.5 L812.1,492.5 L812.3,492.4 L812.5,492.3 L812.7,492.3 L812.9,492.2 L813.1,492.2 L813.3,492.1 L813.5,492.0 L813.7,492.0 L813.9,491.9 L814.1,491.9 L814.3,491.8 L814.5,491.8 L814.8,491.7 L815.0,491.7 L815.2,491.6 L815.4,491.6 L815.6,491.5 L815.8,491.5 L816.0,491.4 L816.2,491.4 L816.4,491.3 L816.7,491.3 L816.9,491.2 L817.1,491.2 L817.3,491.2 L817.5,491.1 L817.7,491.1 L817.9,491.1 L818.1,491.0 L818.3,491.0 L818.6,490.9 L818.8,490.9 L819.0,490.9 L819.2,490.8 L819.4,490.8 L819.6,490.8 L819.8,490.8 L820.1,490.7 L820.3,490.9 L820.6,491.5 L820.8,491.7 L821.1,491.9 L821.3,492.0 L821.5,492.1 L821.7,492.2 L821.9,492.2 L822.1,492.2 L822.3,492.2 L822.5,492.1 L822.8,492.1 L823.0,492.0 L823.2,491.9 L823.4,491.8 L823.6,491.6 L823.8,491.3 L823.9,491.0 L824.1,490.4 L824.3,490.3 L824.6,490.3 L824.8,490.3 L825.0,490.3 L825.2,490.3 L825.4,490.3 L825.6,490.3 L825.9,490.3 L826.1,490.3 L826.3,490.3 L826.5,490.3 L826.7,490.3 L826.9,490.3 L827.1,490.3 L827.4,490.3 L827.6,490.3 L827.8,490.3 L828.0,490.3 L828.2,490.3 L828.4,490.3 L828.7,490.3 L828.9,490.4 L829.1,490.4 L829.3,490.4 L829.5,490.4 L829.7,490.4 L829.9,490.4 L830.2,490.4 L830.4,490.5 L830.6,490.5 L830.8,490.5 L831.0,490.5 L831.2,490.5 L831.4,490.5 L831.7,490.6 L831.9,490.6 L832.1,490.6 L832.3,490.6 L832.5,490.7 L832.7,490.7 L832.9,490.7 L833.2,490.8 L833.4,490.8 L833.6,490.8 L833.8,490.8 L834.0,490.9 L834.2,490.9 L834.3,491.6 L834.5,491.9 L834.7,492.2 L834.8,492.4 L835.0,492.6 L835.2,492.7 L835.4,492.8 L835.6,492.9 L835.8,492.9 L836.0,493.0 L836.2,493.0 L836.4,493.0 L836.7,492.9 L836.9,492.9 L837.1,492.8 L837.4,492.6 L837.6,492.4 L838.0,491.7 L838.2,491.7 L838.5,491.8 L838.7,491.8 L838.9,491.9 L839.1,491.9 L839.3,492.0 L839.5,492.0 L839.7,492.1 L839.9,492.2 L840.1,492.2 L840.3,492.3 L840.5,492.3 L840.7,492.4 L840.9,492.5 L841.1,492.5 L841.4,492.6 L841.6,492.7 L841.8,492.7 L842.0,492.8 L842.2,492.9 L842.4,492.9 L842.6,493.0 L842.8,493.1 L843.0,493.1 L843.2,493.2 L843.4,493.3 L843.6,493.4 L843.8,493.4 L844.0,493.5 L844.2,493.6 L844.4,493.7 L844.6,493.7 L844.8,493.8 L845.0,493.9 L845.2,494.0 L845.4,494.1 L845.6,494.1 L845.8,494.2 L846.0,494.3 L846.2,494.4 L846.4,494.5 L846.6,494.6 L846.8,494.7 L847.0,494.7 L847.2,494.8 L847.4,494.9 L847.6,495.0 L847.6,495.4 L847.6,496.0 L847.7,496.3 L847.8,496.6 L847.9,496.8 L848.0,497.0 L848.2,497.1 L848.4,497.3 L848.5,497.4 L848.7,497.5 L848.9,497.6 L849.1,497.6 L849.3,497.7 L849.6,497.7 L849.8,497.7 L850.1,497.6 L850.4,497.5 L850.7,497.3 L851.2,496.9 L851.4,497.0 L851.6,497.1 L851.8,497.2 L851.9,497.4 L852.1,497.5 L852.3,497.6 L852.5,497.7 L852.7,497.8 L852.9,497.9 L853.0,498.0 L853.2,498.2 L853.4,498.3 L853.6,498.4 L853.8,498.5 L853.9,498.6 L854.1,498.7 L854.3,498.9 L854.5,499.0 L854.7,499.1 L854.8,499.2 L855.0,499.4 L855.2,499.5 L855.4,499.6 L855.5,499.7 L855.7,499.9 L855.9,500.0 L856.1,500.1 L856.2,500.2 L856.4,500.4 L856.6,500.5 L856.7,500.6 L856.9,500.8 L857.1,500.9 L857.3,501.0 L857.4,501.2 L857.6,501.3 L857.8,501.4 L857.9,501.6 L858.1,501.7 L858.3,501.9 L858.4,502.0 L858.6,502.1 L858.7,502.3 L858.9,502.4 L859.1,502.6 L859.2,502.7 L859.4,502.8 L859.1,503.5 L859.0,503.9 L859.0,504.2 L859.1,504.4 L859.2,504.7 L859.3,504.9 L859.4,505.1 L859.5,505.2 L859.6,505.4 L859.8,505.5 L860.0,505.6 L860.1,505.8 L860.4,505.8 L860.6,505.9 L860.8,506.0 L861.1,506.0 L861.5,505.9 L862.2,505.5 L862.3,505.7 L862.5,505.9 L862.6,506.0 L862.8,506.2 L862.9,506.3 L863.1,506.5 L863.2,506.6 L863.4,506.8 L863.5,507.0 L863.6,507.1 L863.8,507.3 L863.9,507.5 L864.1,507.6 L864.2,507.8 L864.3,507.9 L864.5,508.1 L864.6,508.3 L864.8,508.4 L864.9,508.6 L865.0,508.8 L865.2,508.9 L865.3,509.1 L865.4,509.3 L865.6,509.5 L865.7,509.6 L865.8,509.8 L866.0,510.0 L866.1,510.1 L866.2,510.3 L866.3,510.5 L866.5,510.7 L866.6,510.8 L866.7,511.0 L866.8,511.2 L867.0,511.4 L867.1,511.5 L867.2,511.7 L867.3,511.9 L867.5,512.1 L867.6,512.3 L867.7,512.4 L867.8,512.6 L867.9,512.8 L868.0,513.0 L868.2,513.2 L868.3,513.3 L868.4,513.5 L868.1,513.9 L867.9,514.3 L867.8,514.7 L867.7,514.9 L867.7,515.2 L867.7,515.4 L867.8,515.6 L867.8,515.8 L867.9,516.0 L868.0,516.2 L868.1,516.4 L868.3,516.5 L868.4,516.7 L868.6,516.8 L868.8,516.9 L869.1,517.0 L869.4,517.1 L869.9,517.1 L870.4,517.1 L870.5,517.3 L870.6,517.5 L870.7,517.7 L870.8,517.9 L870.9,518.0 L871.0,518.2 L871.1,518.4 L871.2,518.6 L871.3,518.8 L871.4,519.0 L871.5,519.2 L871.5,519.4 L871.6,519.6 L871.7,519.8 L871.8,520.0 L871.9,520.2 L872.0,520.4 L872.1,520.6 L872.1,520.8 L872.2,521.0 L872.3,521.2 L872.4,521.4 L872.5,521.6 L872.5,521.8 L872.6,522.0 L872.7,522.2 L872.8,522.4 L872.8,522.6 L872.9,522.8 L873.0,523.0 L873.1,523.2 L873.1,523.4 L873.2,523.6 L873.3,523.8 L873.3,524.0 L873.4,524.2 L873.5,524.4 L873.5,524.6 L873.6,524.8 L873.7,525.1 L873.7,525.3 L873.8,525.5 L873.9,525.7 L873.9,525.9 L874.0,526.1 L874.0,526.3 L874.1,526.5 L873.5,526.9 L873.2,527.2 L873.1,527.4 L873.0,527.7 L872.9,527.9 L872.9,528.1 L872.9,528.4 L872.9,528.6 L872.9,528.8 L873.0,529.0 L873.1,529.2 L873.2,529.4 L873.3,529.5 L873.5,529.7 L873.7,529.9 L873.9,530.1 L874.3,530.2 L875.0,530.3 L875.0,530.5 L875.1,530.7 L875.1,530.9 L875.1,531.1 L875.2,531.3 L875.2,531.5 L875.3,531.8 L875.3,532.0 L875.3,532.2 L875.4,532.4 L875.4,532.6 L875.4,532.8 L875.4,533.0 L875.5,533.3 L875.5,533.5 L875.5,533.7 L875.6,533.9 L875.6,534.1 L875.6,534.3 L875.6,534.5 L875.7,534.8 L875.7,535.0 L875.7,535.2 L875.7,535.4 L875.7,535.6 L875.7,535.8 L875.8,536.0 L875.8,536.3 L875.8,536.5 L875.8,536.7 L875.8,536.9 L875.8,537.1 L875.8,537.3 L875.9,537.5 L875.9,537.8 L875.9,538.0 L875.9,538.2 L875.9,538.4 L875.9,538.6 L875.9,538.8 L875.9,539.1 L875.9,539.3 L875.9,539.5Z" fill="none" stroke="#333" stroke-width="1.5"/>
<g fill="none" stroke="#666" stroke-width="0.7">
<circle cx="826.5" cy="539.7" r="44.6"/>
<circle cx="826.5" cy="539.7" r="41.8"/>
<circle cx="826.5" cy="539.7" r="31.2"/>
</g>
<circle cx="826.5" cy="539.7" r="29.6" fill="none" stroke="#222" stroke-width="1.6"/>
<!--/ILL-->
  <!-- table -->
  <rect x="3" y="428" width="995" height="40" fill="#ebebed"/>
  <g stroke="#5a5a5a" stroke-width="1.7" fill="none">
    <rect x="3.1" y="428.3" width="995" height="227.2"/>
    <line x1="3" y1="468.3" x2="998" y2="468.3"/>
    <line x1="3" y1="617.1" x2="998" y2="617.1"/>
    <line x1="334.6" y1="428" x2="334.6" y2="655.5"/>
    <line x1="666.4" y1="428" x2="666.4" y2="655.5"/>
  </g>
</svg>
</body></html>
